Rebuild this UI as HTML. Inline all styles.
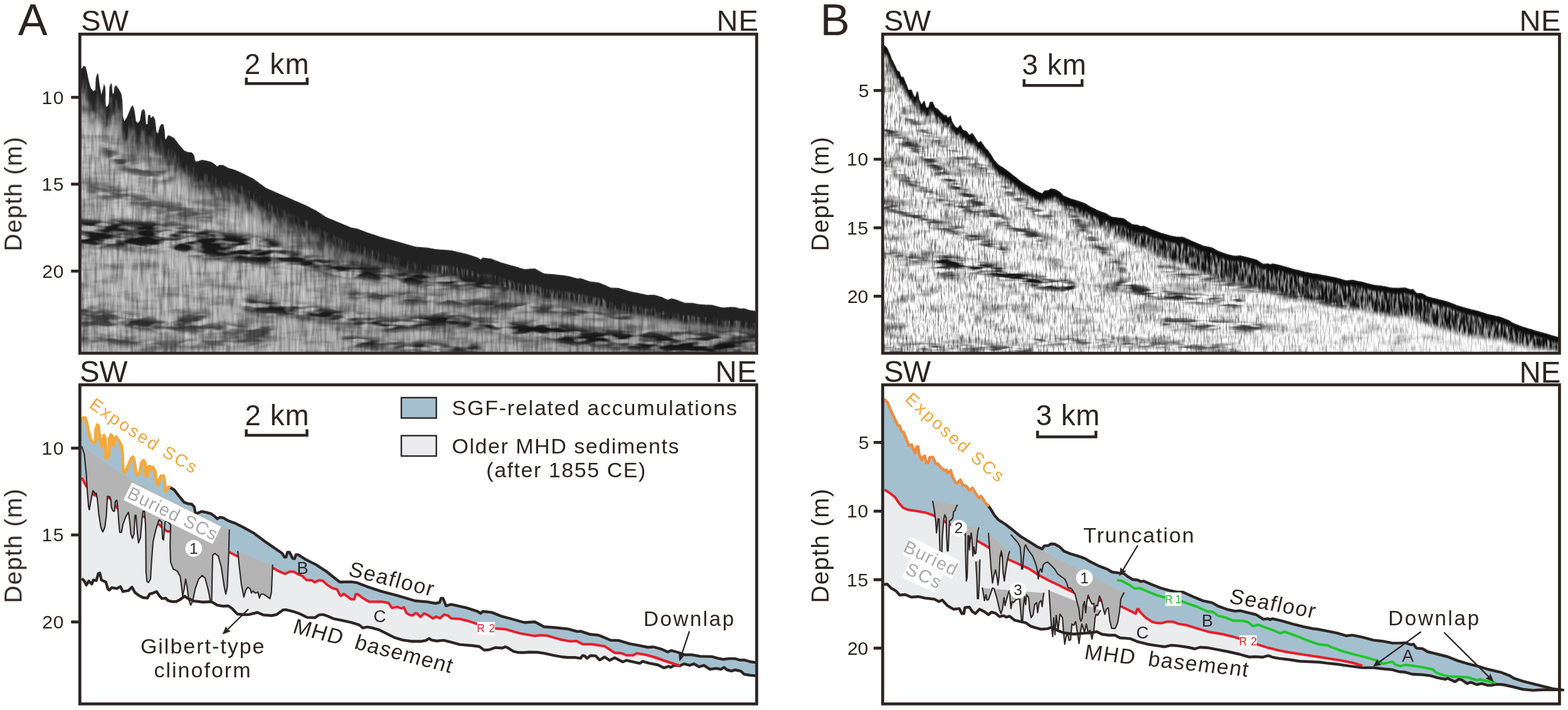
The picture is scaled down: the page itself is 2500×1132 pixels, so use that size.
<!DOCTYPE html>
<html lang="en"><head><meta charset="utf-8"><title>Seismic profiles and interpretation</title>
<style>html,body{margin:0;padding:0;background:#fff}svg{display:block}text{font-family:'Liberation Sans',Arial,sans-serif}</style>
</head><body>
<svg width="2500" height="1132" viewBox="0 0 2500 1132">
<rect width="2500" height="1132" fill="#fff"/>
<defs>
<clipPath id="cA"><path d="M127.0,109.2L130.4,109.2L132.8,105.2L136.0,105.2L138.4,113.2L141.6,129.2L144.8,140.4L148.8,145.2L152.0,143.6L152.8,124.4L155.2,116.4L156.8,118.0L158.4,132.4L161.6,151.6L164.0,142.0L165.6,133.2L168.0,138.8L168.8,169.2L171.2,170.0L173.6,164.4L174.4,138.8L176.8,132.4L178.4,134.0L179.5,149.2L181.1,149.2L182.4,138.8L184.8,135.6L189.6,142.0L193.6,150.0L195.2,161.2L196.0,185.2L198.4,193.2L202.4,186.8L208.8,170.8L212.0,167.6L214.4,175.6L216.8,193.2L220.0,196.4L223.2,191.6L225.6,177.2L228.8,173.2L231.2,177.2L232.8,198.0L235.2,198.0L236.0,183.6L239.2,182.8L240.8,188.4L244.0,184.4L247.2,190.0L249.6,210.8L252.0,212.4L254.4,202.8L256.8,198.0L260.8,198.0L262.4,207.6L263.2,221.2L264.8,222.0L267.2,216.4L269.6,215.6L277.6,220.0L285.6,230.4L293.6,240.0L300.0,242.4L305.6,242.9L309.6,247.2L311.5,256.8L314.4,257.6L321.6,254.7L328.8,256.0L336.8,258.0L343.2,262.4L346.4,265.5L350.4,262.8L356.0,263.3L364.0,267.7L375.2,271.0L388.0,276.7L404.0,284.8L424.0,299.6L488.0,327.6L504.0,335.6L520.0,346.0L560.0,362.8L569.6,364.4L584.0,370.0L608.0,378.0L632.0,384.4L662.4,393.2L681.6,394.8L694.4,397.2L719.2,399.0L744.0,404.8L761.6,410.6L766.4,413.8L769.6,410.6L784.0,412.4L799.2,418.5L820.0,424.3L836.0,428.9L852.8,428.1L867.2,435.9L884.0,437.3L904.8,439.7L920.8,444.1L925.6,443.6L940.0,448.5L954.4,450.3L962.4,453.5L973.6,458.4L986.4,458.9L1004.0,464.3L1020.0,467.4L1032.8,470.2L1042.4,469.8L1055.2,473.6L1064.8,478.0L1070.4,475.6L1080.8,478.6L1092.0,482.7L1103.2,482.8L1116.0,485.3L1135.2,486.0L1144.8,488.8L1152.8,490.4L1162.4,489.4L1172.0,489.5L1180.0,492.0L1186.4,491.6L1196.0,494.6L1204.3,495.8L1207.0,495.8L1207.0,563.0L127.0,563.0Z"/></clipPath>
<clipPath id="cB"><path d="M1407.0,72.1L1410.4,72.1L1415.2,76.9L1419.2,86.5L1423.2,96.1L1427.2,104.1L1431.2,112.9L1434.4,113.7L1436.8,121.7L1440.8,122.6L1444.8,133.0L1448.8,143.4L1453.6,142.6L1456.0,149.0L1459.2,155.4L1461.6,145.8L1464.0,145.8L1465.6,158.6L1469.6,166.6L1472.0,161.8L1474.4,160.2L1476.8,171.4L1480.0,171.4L1482.4,162.6L1487.2,162.1L1491.2,171.4L1495.2,173.0L1500.8,179.4L1505.6,183.4L1508.8,182.6L1511.2,187.4L1516.0,183.4L1518.4,193.8L1523.2,201.8L1526.4,203.9L1531.2,198.4L1535.2,206.9L1540.8,208.4L1545.6,214.9L1550.4,211.4L1556.0,220.6L1560.0,227.0L1564.0,224.6L1568.0,230.2L1572.0,236.6L1575.2,239.0L1580.8,247.0L1585.6,255.0L1592.0,262.2L1603.2,269.4L1614.4,278.2L1627.2,288.6L1640.0,296.6L1652.8,304.6L1661.6,308.6L1664.8,303.8L1672.0,303.0L1675.2,300.6L1681.6,300.9L1689.6,305.4L1696.0,311.8L1707.2,316.6L1718.4,319.8L1729.6,323.8L1739.2,329.4L1752.0,335.8L1764.8,340.6L1772.8,345.4L1784.0,347.0L1792.0,347.8L1798.0,352.6L1806.0,357.4L1814.0,358.2L1818.8,360.6L1823.6,359.8L1836.4,365.4L1850.8,371.0L1865.2,375.0L1876.4,377.4L1886.0,377.4L1902.0,384.6L1918.0,391.3L1932.4,394.2L1942.0,399.8L1958.0,405.4L1969.2,407.8L1977.2,407.0L1990.0,410.2L2002.8,413.4L2014.0,420.6L2022.0,419.8L2025.2,421.4L2028.4,419.8L2042.8,423.0L2062.0,428.6L2078.0,432.6L2094.0,435.9L2100.0,436.4L2116.0,439.6L2132.0,442.8L2146.4,447.1L2156.0,446.0L2172.0,449.2L2189.6,454.0L2204.0,455.6L2220.0,458.8L2231.2,458.8L2240.8,458.3L2248.8,461.2L2253.6,460.4L2258.4,466.8L2268.0,467.6L2276.0,472.4L2292.0,476.4L2308.0,480.4L2324.0,486.8L2340.0,491.6L2356.0,495.6L2372.0,500.4L2392.8,505.2L2407.2,511.1L2413.6,515.3L2428.0,520.7L2444.0,525.4L2460.0,530.0L2476.0,534.7L2487.0,538.0L2487.0,563.0L1407.0,563.0Z"/></clipPath>
<filter id="fA" filterUnits="userSpaceOnUse" x="127" y="57" width="1080" height="506" color-interpolation-filters="sRGB">
<feTurbulence type="fractalNoise" baseFrequency="0.22 0.022" numOctaves="3" seed="11" result="n1"/>
<feColorMatrix in="n1" type="matrix" values="0.62 0 0 0 0.47  0.62 0 0 0 0.47  0.62 0 0 0 0.47  0 0 0 0 1" result="g1"/>
<feTurbulence type="fractalNoise" baseFrequency="0.016 0.06" numOctaves="3" seed="5" result="n2"/>
<feColorMatrix in="n2" type="matrix" values="0 0.9 0 0 0.5  0 0.9 0 0 0.5  0 0.9 0 0 0.5  0 0 0 0 1" result="g2"/>
<feBlend in="g1" in2="g2" mode="multiply" result="gm"/>
<feComponentTransfer in="gm"><feFuncR type="table" tableValues="0.1 0.25 0.45 0.69 0.85"/><feFuncG type="table" tableValues="0.1 0.25 0.45 0.69 0.85"/><feFuncB type="table" tableValues="0.1 0.25 0.45 0.69 0.85"/></feComponentTransfer>
</filter>
<filter id="fB" filterUnits="userSpaceOnUse" x="1407" y="57" width="1080" height="506" color-interpolation-filters="sRGB">
<feTurbulence type="fractalNoise" baseFrequency="0.42 0.06" numOctaves="3" seed="23" result="n1"/>
<feColorMatrix in="n1" type="matrix" values="1.5 0 0 0 0.16  1.5 0 0 0 0.16  1.5 0 0 0 0.16  0 0 0 0 1" result="g1"/>
<feTurbulence type="fractalNoise" baseFrequency="0.02 0.06" numOctaves="3" seed="9" result="n2"/>
<feColorMatrix in="n2" type="matrix" values="0 1.2 0 0 0.4  0 1.2 0 0 0.4  0 1.2 0 0 0.4  0 0 0 0 1" result="g2"/>
<feBlend in="g1" in2="g2" mode="multiply"/>
</filter>
<filter id="blotA" filterUnits="userSpaceOnUse" x="120" y="50" width="2380" height="520" color-interpolation-filters="sRGB">
<feTurbulence type="fractalNoise" baseFrequency="0.028 0.10" numOctaves="2" seed="4" result="n"/>
<feColorMatrix in="n" type="matrix" values="0 0 0 0 0  0 0 0 0 0  0 0 0 0 0  4.00 0 0 0 -1.35" result="m"/>
<feGaussianBlur in="SourceGraphic" stdDeviation="4" result="s"/>
<feComposite in="s" in2="m" operator="in"/>
</filter>
<filter id="blotB" filterUnits="userSpaceOnUse" x="120" y="50" width="2380" height="520" color-interpolation-filters="sRGB">
<feTurbulence type="fractalNoise" baseFrequency="0.03 0.14" numOctaves="2" seed="8" result="n"/>
<feColorMatrix in="n" type="matrix" values="0 0 0 0 0  0 0 0 0 0  0 0 0 0 0  4.00 0 0 0 -1.55" result="m"/>
<feGaussianBlur in="SourceGraphic" stdDeviation="3" result="s"/>
<feComposite in="s" in2="m" operator="in"/>
</filter>
<filter id="mott" filterUnits="userSpaceOnUse" x="120" y="50" width="2380" height="520" color-interpolation-filters="sRGB">
<feTurbulence type="fractalNoise" baseFrequency="0.3 0.05" numOctaves="2" seed="15" result="n"/>
<feColorMatrix in="n" type="matrix" values="0 0 0 0 0  0 0 0 0 0  0 0 0 0 0  3.00 0 0 0 -0.90" result="m"/>
<feGaussianBlur in="SourceGraphic" stdDeviation="3" result="s"/>
<feComposite in="s" in2="m" operator="in"/>
</filter>
<filter id="mottA" filterUnits="userSpaceOnUse" x="120" y="50" width="2380" height="520" color-interpolation-filters="sRGB">
<feTurbulence type="fractalNoise" baseFrequency="0.25 0.03" numOctaves="2" seed="21" result="n"/>
<feColorMatrix in="n" type="matrix" values="0 0 0 0 0  0 0 0 0 0  0 0 0 0 0  3.00 0 0 0 -0.85" result="m"/>
<feGaussianBlur in="SourceGraphic" stdDeviation="2" result="s"/>
<feComposite in="s" in2="m" operator="in"/>
</filter>
<filter id="mottA2" filterUnits="userSpaceOnUse" x="120" y="50" width="2380" height="520" color-interpolation-filters="sRGB">
<feTurbulence type="fractalNoise" baseFrequency="0.12 0.04" numOctaves="2" seed="33" result="n"/>
<feColorMatrix in="n" type="matrix" values="0 0 0 0 0  0 0 0 0 0  0 0 0 0 0  3.50 0 0 0 -1.35" result="m"/>
<feGaussianBlur in="SourceGraphic" stdDeviation="3" result="s"/>
<feComposite in="s" in2="m" operator="in"/>
</filter>
<filter id="bl2" x="-5%" y="-30%" width="110%" height="160%"><feGaussianBlur stdDeviation="1.5"/></filter>
<filter id="bl8" x="-5%" y="-30%" width="110%" height="160%"><feGaussianBlur stdDeviation="8"/></filter>
<filter id="bl5" x="-5%" y="-30%" width="110%" height="160%"><feGaussianBlur stdDeviation="5"/></filter>
<linearGradient id="darkA" x1="0" y1="0" x2="1" y2="1"><stop offset="0" stop-color="#000" stop-opacity="0"/><stop offset="0.5" stop-color="#000" stop-opacity="0.03"/><stop offset="1" stop-color="#000" stop-opacity="0.16"/></linearGradient>
<linearGradient id="fadeB" x1="0" y1="0" x2="1" y2="0"><stop offset="0" stop-color="#fff" stop-opacity="0"/><stop offset="0.4" stop-color="#fff" stop-opacity="0.12"/><stop offset="1" stop-color="#fff" stop-opacity="0.6"/></linearGradient>
</defs>
<g id="seisA" clip-path="url(#cA)">
<rect x="127" y="57" width="1080" height="506" filter="url(#fA)"/>
<g filter="url(#blotA)" fill="none" stroke="#1a1a1a" stroke-linecap="round" stroke-linejoin="round">
<path d="M126,371 L258,375 L327,388 L430,402" stroke-width="44"/>
<path d="M150,300 L250,328 L330,345" stroke-width="20" opacity="0.6"/>
<path d="M126,512 L300,522 L430,530" stroke-width="18" opacity="0.7"/>
<path d="M396,396 L533,427 L671,445 L800,456" stroke-width="22"/>
<path d="M126,492 L189,506 L258,518 L327,502" stroke-width="16" opacity="0.7"/>
<path d="M396,486 L510,500 L625,518 L717,509 L809,523 L901,528" stroke-width="20"/>
<path d="M855,525 L993,546 L1176,556" stroke-width="24"/>
<path d="M1050,499 L1120,501 L1206,510" stroke-width="14"/>
<path d="M552,543 L648,552 L760,556" stroke-width="14"/>
<path d="M170,240 L205,268 L270,282" stroke-width="16" opacity="0.7"/>
<path d="M560,470 L700,478 L860,492 L1000,506" stroke-width="14" opacity="0.8"/>
<path d="M900,538 L1050,540 L1206,542" stroke-width="26" opacity="0.85"/>
<path d="M126,540 L250,548 L420,545" stroke-width="14" opacity="0.6"/>
</g>
<rect x="127" y="57" width="1080" height="506" fill="url(#darkA)"/>
<path d="M127.0,109.2L130.4,109.2L132.8,105.2L136.0,105.2L138.4,113.2L141.6,129.2L144.8,140.4L148.8,145.2L152.0,143.6L152.8,124.4L155.2,116.4L156.8,118.0L158.4,132.4L161.6,151.6L164.0,142.0L165.6,133.2L168.0,138.8L168.8,169.2L171.2,170.0L173.6,164.4L174.4,138.8L176.8,132.4L178.4,134.0L179.5,149.2L181.1,149.2L182.4,138.8L184.8,135.6L189.6,142.0L193.6,150.0L195.2,161.2L196.0,185.2L198.4,193.2L202.4,186.8L208.8,170.8L212.0,167.6L214.4,175.6L216.8,193.2L220.0,196.4L223.2,191.6L225.6,177.2L228.8,173.2L231.2,177.2L232.8,198.0L235.2,198.0L236.0,183.6L239.2,182.8L240.8,188.4L244.0,184.4L247.2,190.0L249.6,210.8L252.0,212.4L254.4,202.8L256.8,198.0L260.8,198.0L262.4,207.6L263.2,221.2L264.8,222.0L267.2,216.4L269.6,215.6L277.6,220.0L285.6,230.4L293.6,240.0L300.0,242.4L305.6,242.9L309.6,247.2L311.5,256.8L314.4,257.6L321.6,254.7L328.8,256.0L336.8,258.0L343.2,262.4L346.4,265.5L350.4,262.8L356.0,263.3L364.0,267.7L375.2,271.0L388.0,276.7L404.0,284.8L424.0,299.6L488.0,327.6L504.0,335.6L520.0,346.0L560.0,362.8L569.6,364.4L584.0,370.0L608.0,378.0L632.0,384.4L662.4,393.2L681.6,394.8L694.4,397.2L694.4,431.4L681.6,431.7L662.4,434.3L632.0,432.0L608.0,430.7L584.0,427.9L569.6,425.3L560.0,425.8L520.0,407.2L504.0,396.0L488.0,387.3L424.0,356.4L404.0,340.7L388.0,331.8L375.2,325.6L364.0,321.7L356.0,317.0L350.4,316.3L346.4,318.7L343.2,315.5L336.8,310.8L328.8,308.5L321.6,307.2L314.4,310.1L311.5,309.3L309.6,299.7L305.6,295.4L300.0,294.9L293.6,292.5L285.6,282.9L277.6,272.5L269.6,268.1L267.2,268.9L264.8,274.5L263.2,273.7L262.4,260.1L260.8,250.5L256.8,250.5L254.4,255.3L252.0,264.9L249.6,263.3L247.2,242.5L244.0,236.9L240.8,240.9L239.2,235.3L236.0,236.1L235.2,250.5L232.8,250.5L231.2,229.7L228.8,225.7L225.6,229.7L223.2,244.1L220.0,248.9L216.8,245.7L214.4,228.1L212.0,220.1L208.8,223.3L202.4,239.3L198.4,245.7L196.0,237.7L195.2,213.7L193.6,202.5L189.6,194.5L184.8,188.1L182.4,191.3L181.1,201.7L179.5,201.7L178.4,186.5L176.8,184.9L174.4,191.3L173.6,216.9L171.2,222.5L168.8,221.7L168.0,191.3L165.6,185.7L164.0,194.5L161.6,204.1L158.4,184.9L156.8,170.5L155.2,168.9L152.8,176.9L152.0,196.1L148.8,197.7L144.8,192.9L141.6,181.7L138.4,165.7L136.0,157.7L132.8,157.7L130.4,161.7L127.0,161.7Z" fill="#222" opacity="0.38" filter="url(#bl8)" transform="translate(0 4)"/>
<path d="M127.0,109.2L130.4,109.2L132.8,105.2L136.0,105.2L138.4,113.2L141.6,129.2L144.8,140.4L148.8,145.2L152.0,143.6L152.8,124.4L155.2,116.4L156.8,118.0L158.4,132.4L161.6,151.6L164.0,142.0L165.6,133.2L168.0,138.8L168.8,169.2L171.2,170.0L173.6,164.4L174.4,138.8L176.8,132.4L178.4,134.0L179.5,149.2L181.1,149.2L182.4,138.8L184.8,135.6L189.6,142.0L193.6,150.0L195.2,161.2L196.0,185.2L198.4,193.2L202.4,186.8L208.8,170.8L212.0,167.6L214.4,175.6L216.8,193.2L220.0,196.4L223.2,191.6L225.6,177.2L228.8,173.2L231.2,177.2L232.8,198.0L235.2,198.0L236.0,183.6L239.2,182.8L240.8,188.4L244.0,184.4L247.2,190.0L249.6,210.8L252.0,212.4L254.4,202.8L256.8,198.0L260.8,198.0L262.4,207.6L263.2,221.2L264.8,222.0L267.2,216.4L269.6,215.6L277.6,220.0L285.6,230.4L293.6,240.0L300.0,242.4L305.6,242.9L309.6,247.2L311.5,256.8L314.4,257.6L321.6,254.7L328.8,256.0L336.8,258.0L343.2,262.4L346.4,265.5L350.4,262.8L356.0,263.3L364.0,267.7L375.2,271.0L388.0,276.7L404.0,284.8L424.0,299.6L488.0,327.6L504.0,335.6L520.0,346.0L560.0,362.8L569.6,364.4L584.0,370.0L608.0,378.0L632.0,384.4L662.4,393.2L681.6,394.8L694.4,397.2L694.4,431.4L681.6,431.7L662.4,434.3L632.0,432.0L608.0,430.7L584.0,427.9L569.6,425.3L560.0,425.8L520.0,407.2L504.0,396.0L488.0,387.3L424.0,356.4L404.0,340.7L388.0,331.8L375.2,325.6L364.0,321.7L356.0,317.0L350.4,316.3L346.4,318.7L343.2,315.5L336.8,310.8L328.8,308.5L321.6,307.2L314.4,310.1L311.5,309.3L309.6,299.7L305.6,295.4L300.0,294.9L293.6,292.5L285.6,282.9L277.6,272.5L269.6,268.1L267.2,268.9L264.8,274.5L263.2,273.7L262.4,260.1L260.8,250.5L256.8,250.5L254.4,255.3L252.0,264.9L249.6,263.3L247.2,242.5L244.0,236.9L240.8,240.9L239.2,235.3L236.0,236.1L235.2,250.5L232.8,250.5L231.2,229.7L228.8,225.7L225.6,229.7L223.2,244.1L220.0,248.9L216.8,245.7L214.4,228.1L212.0,220.1L208.8,223.3L202.4,239.3L198.4,245.7L196.0,237.7L195.2,213.7L193.6,202.5L189.6,194.5L184.8,188.1L182.4,191.3L181.1,201.7L179.5,201.7L178.4,186.5L176.8,184.9L174.4,191.3L173.6,216.9L171.2,222.5L168.8,221.7L168.0,191.3L165.6,185.7L164.0,194.5L161.6,204.1L158.4,184.9L156.8,170.5L155.2,168.9L152.8,176.9L152.0,196.1L148.8,197.7L144.8,192.9L141.6,181.7L138.4,165.7L136.0,157.7L132.8,157.7L130.4,161.7L127.0,161.7Z" fill="#222" opacity="0.5" filter="url(#mottA2)"/>
<path d="M127.0,109.2L130.4,109.2L132.8,105.2L136.0,105.2L138.4,113.2L141.6,129.2L144.8,140.4L148.8,145.2L152.0,143.6L152.8,124.4L155.2,116.4L156.8,118.0L158.4,132.4L161.6,151.6L164.0,142.0L165.6,133.2L168.0,138.8L168.8,169.2L171.2,170.0L173.6,164.4L174.4,138.8L176.8,132.4L178.4,134.0L179.5,149.2L181.1,149.2L182.4,138.8L184.8,135.6L189.6,142.0L193.6,150.0L195.2,161.2L196.0,185.2L198.4,193.2L202.4,186.8L208.8,170.8L212.0,167.6L214.4,175.6L216.8,193.2L220.0,196.4L223.2,191.6L225.6,177.2L228.8,173.2L231.2,177.2L232.8,198.0L235.2,198.0L236.0,183.6L239.2,182.8L240.8,188.4L244.0,184.4L247.2,190.0L249.6,210.8L252.0,212.4L254.4,202.8L256.8,198.0L260.8,198.0L262.4,207.6L263.2,221.2L264.8,222.0L267.2,216.4L269.6,215.6L277.6,220.0L285.6,230.4L293.6,240.0L300.0,242.4L305.6,242.9L309.6,247.2L311.5,256.8L314.4,257.6L321.6,254.7L328.8,256.0L336.8,258.0L343.2,262.4L346.4,265.5L350.4,262.8L356.0,263.3L364.0,267.7L375.2,271.0L388.0,276.7L404.0,284.8L424.0,299.6L488.0,327.6L504.0,335.6L520.0,346.0L560.0,362.8L569.6,364.4L584.0,370.0L608.0,378.0L632.0,384.4L662.4,393.2L681.6,394.8L694.4,397.2L719.2,399.0L744.0,404.8L761.6,410.6L766.4,413.8L769.6,410.6L784.0,412.4L799.2,418.5L820.0,424.3L836.0,428.9L852.8,428.1L867.2,435.9L884.0,437.3L904.8,439.7L920.8,444.1L925.6,443.6L940.0,448.5L954.4,450.3L962.4,453.5L973.6,458.4L986.4,458.9L1004.0,464.3L1020.0,467.4L1032.8,470.2L1042.4,469.8L1055.2,473.6L1064.8,478.0L1070.4,475.6L1080.8,478.6L1092.0,482.7L1103.2,482.8L1116.0,485.3L1135.2,486.0L1144.8,488.8L1152.8,490.4L1162.4,489.4L1172.0,489.5L1180.0,492.0L1186.4,491.6L1196.0,494.6L1204.3,495.8L1207.0,495.8L1207.0,527.0L1204.3,527.0L1196.0,525.8L1186.4,522.8L1180.0,523.2L1172.0,520.7L1162.4,520.6L1152.8,521.6L1144.8,520.0L1135.2,517.2L1116.0,516.5L1103.2,514.0L1092.0,514.2L1080.8,510.5L1070.4,508.0L1064.8,510.5L1055.2,506.5L1042.4,503.2L1032.8,504.0L1020.0,501.7L1004.0,499.3L986.4,494.5L973.6,494.6L962.4,490.1L954.4,487.1L940.0,486.0L925.6,481.6L920.8,482.3L904.8,478.5L884.0,476.3L867.2,474.9L852.8,467.1L836.0,467.9L820.0,463.3L799.2,457.5L784.0,451.4L769.6,449.6L766.4,452.8L761.6,449.6L744.0,443.8L719.2,438.0L694.4,436.2L681.6,433.8L662.4,432.2L632.0,423.4L608.0,417.0L584.0,409.0L569.6,403.4L560.0,401.8L520.0,383.9L504.0,373.0L488.0,364.6L424.0,334.8L404.0,319.4L388.0,310.8L375.2,304.8L364.0,301.1L356.0,296.5L350.4,295.9L346.4,298.4L343.2,295.3L336.8,290.7L328.8,288.5L321.6,287.2L314.4,290.1L311.5,289.3L309.6,279.7L305.6,275.4L300.0,274.9L293.6,272.5L285.6,262.9L277.6,252.5L269.6,248.1L267.2,248.9L264.8,254.5L263.2,253.7L262.4,240.1L260.8,230.5L256.8,230.5L254.4,235.3L252.0,244.9L249.6,243.3L247.2,222.5L244.0,216.9L240.8,220.9L239.2,215.3L236.0,216.1L235.2,230.5L232.8,230.5L231.2,209.7L228.8,205.7L225.6,209.7L223.2,224.1L220.0,228.9L216.8,225.7L214.4,208.1L212.0,200.1L208.8,203.3L202.4,219.3L198.4,225.7L196.0,217.7L195.2,193.7L193.6,182.5L189.6,174.5L184.8,168.1L182.4,171.3L181.1,181.7L179.5,181.7L178.4,166.5L176.8,164.9L174.4,171.3L173.6,196.9L171.2,202.5L168.8,201.7L168.0,171.3L165.6,165.7L164.0,174.5L161.6,184.1L158.4,164.9L156.8,150.5L155.2,148.9L152.8,156.9L152.0,176.1L148.8,177.7L144.8,172.9L141.6,161.7L138.4,145.7L136.0,137.7L132.8,137.7L130.4,141.7L127.0,141.7Z" fill="#222" opacity="0.45" filter="url(#bl5)" transform="translate(0 6)"/>
<path d="M127.0,109.2L130.4,109.2L132.8,105.2L136.0,105.2L138.4,113.2L141.6,129.2L144.8,140.4L148.8,145.2L152.0,143.6L152.8,124.4L155.2,116.4L156.8,118.0L158.4,132.4L161.6,151.6L164.0,142.0L165.6,133.2L168.0,138.8L168.8,169.2L171.2,170.0L173.6,164.4L174.4,138.8L176.8,132.4L178.4,134.0L179.5,149.2L181.1,149.2L182.4,138.8L184.8,135.6L189.6,142.0L193.6,150.0L195.2,161.2L196.0,185.2L198.4,193.2L202.4,186.8L208.8,170.8L212.0,167.6L214.4,175.6L216.8,193.2L220.0,196.4L223.2,191.6L225.6,177.2L228.8,173.2L231.2,177.2L232.8,198.0L235.2,198.0L236.0,183.6L239.2,182.8L240.8,188.4L244.0,184.4L247.2,190.0L249.6,210.8L252.0,212.4L254.4,202.8L256.8,198.0L260.8,198.0L262.4,207.6L263.2,221.2L264.8,222.0L267.2,216.4L269.6,215.6L277.6,220.0L285.6,230.4L293.6,240.0L300.0,242.4L305.6,242.9L309.6,247.2L311.5,256.8L314.4,257.6L321.6,254.7L328.8,256.0L336.8,258.0L343.2,262.4L346.4,265.5L350.4,262.8L356.0,263.3L364.0,267.7L375.2,271.0L388.0,276.7L404.0,284.8L424.0,299.6L488.0,327.6L504.0,335.6L520.0,346.0L560.0,362.8L569.6,364.4L584.0,370.0L608.0,378.0L632.0,384.4L662.4,393.2L681.6,394.8L694.4,397.2L719.2,399.0L744.0,404.8L761.6,410.6L766.4,413.8L769.6,410.6L784.0,412.4L799.2,418.5L820.0,424.3L836.0,428.9L852.8,428.1L867.2,435.9L884.0,437.3L904.8,439.7L920.8,444.1L925.6,443.6L940.0,448.5L954.4,450.3L962.4,453.5L973.6,458.4L986.4,458.9L1004.0,464.3L1020.0,467.4L1032.8,470.2L1042.4,469.8L1055.2,473.6L1064.8,478.0L1070.4,475.6L1080.8,478.6L1092.0,482.7L1103.2,482.8L1116.0,485.3L1135.2,486.0L1144.8,488.8L1152.8,490.4L1162.4,489.4L1172.0,489.5L1180.0,492.0L1186.4,491.6L1196.0,494.6L1204.3,495.8L1207.0,495.8L1207.0,527.0L1204.3,527.0L1196.0,525.8L1186.4,522.8L1180.0,523.2L1172.0,520.7L1162.4,520.6L1152.8,521.6L1144.8,520.0L1135.2,517.2L1116.0,516.5L1103.2,514.0L1092.0,514.2L1080.8,510.5L1070.4,508.0L1064.8,510.5L1055.2,506.5L1042.4,503.2L1032.8,504.0L1020.0,501.7L1004.0,499.3L986.4,494.5L973.6,494.6L962.4,490.1L954.4,487.1L940.0,486.0L925.6,481.6L920.8,482.3L904.8,478.5L884.0,476.3L867.2,474.9L852.8,467.1L836.0,467.9L820.0,463.3L799.2,457.5L784.0,451.4L769.6,449.6L766.4,452.8L761.6,449.6L744.0,443.8L719.2,438.0L694.4,436.2L681.6,433.8L662.4,432.2L632.0,423.4L608.0,417.0L584.0,409.0L569.6,403.4L560.0,401.8L520.0,383.9L504.0,373.0L488.0,364.6L424.0,334.8L404.0,319.4L388.0,310.8L375.2,304.8L364.0,301.1L356.0,296.5L350.4,295.9L346.4,298.4L343.2,295.3L336.8,290.7L328.8,288.5L321.6,287.2L314.4,290.1L311.5,289.3L309.6,279.7L305.6,275.4L300.0,274.9L293.6,272.5L285.6,262.9L277.6,252.5L269.6,248.1L267.2,248.9L264.8,254.5L263.2,253.7L262.4,240.1L260.8,230.5L256.8,230.5L254.4,235.3L252.0,244.9L249.6,243.3L247.2,222.5L244.0,216.9L240.8,220.9L239.2,215.3L236.0,216.1L235.2,230.5L232.8,230.5L231.2,209.7L228.8,205.7L225.6,209.7L223.2,224.1L220.0,228.9L216.8,225.7L214.4,208.1L212.0,200.1L208.8,203.3L202.4,219.3L198.4,225.7L196.0,217.7L195.2,193.7L193.6,182.5L189.6,174.5L184.8,168.1L182.4,171.3L181.1,181.7L179.5,181.7L178.4,166.5L176.8,164.9L174.4,171.3L173.6,196.9L171.2,202.5L168.8,201.7L168.0,171.3L165.6,165.7L164.0,174.5L161.6,184.1L158.4,164.9L156.8,150.5L155.2,148.9L152.8,156.9L152.0,176.1L148.8,177.7L144.8,172.9L141.6,161.7L138.4,145.7L136.0,137.7L132.8,137.7L130.4,141.7L127.0,141.7Z" fill="#202020" filter="url(#mottA)"/>
<path d="M127.0,109.2L130.4,109.2L132.8,105.2L136.0,105.2L138.4,113.2L141.6,129.2L144.8,140.4L148.8,145.2L152.0,143.6L152.8,124.4L155.2,116.4L156.8,118.0L158.4,132.4L161.6,151.6L164.0,142.0L165.6,133.2L168.0,138.8L168.8,169.2L171.2,170.0L173.6,164.4L174.4,138.8L176.8,132.4L178.4,134.0L179.5,149.2L181.1,149.2L182.4,138.8L184.8,135.6L189.6,142.0L193.6,150.0L195.2,161.2L196.0,185.2L198.4,193.2L202.4,186.8L208.8,170.8L212.0,167.6L214.4,175.6L216.8,193.2L220.0,196.4L223.2,191.6L225.6,177.2L228.8,173.2L231.2,177.2L232.8,198.0L235.2,198.0L236.0,183.6L239.2,182.8L240.8,188.4L244.0,184.4L247.2,190.0L249.6,210.8L252.0,212.4L254.4,202.8L256.8,198.0L260.8,198.0L262.4,207.6L263.2,221.2L264.8,222.0L267.2,216.4L269.6,215.6L277.6,220.0L285.6,230.4L293.6,240.0L300.0,242.4L305.6,242.9L309.6,247.2L311.5,256.8L314.4,257.6L321.6,254.7L328.8,256.0L336.8,258.0L343.2,262.4L346.4,265.5L350.4,262.8L356.0,263.3L364.0,267.7L375.2,271.0L388.0,276.7L404.0,284.8L424.0,299.6L488.0,327.6L504.0,335.6L520.0,346.0L560.0,362.8L569.6,364.4L584.0,370.0L608.0,378.0L632.0,384.4L662.4,393.2L681.6,394.8L694.4,397.2L719.2,399.0L744.0,404.8L761.6,410.6L766.4,413.8L769.6,410.6L784.0,412.4L799.2,418.5L820.0,424.3L836.0,428.9L852.8,428.1L867.2,435.9L884.0,437.3L904.8,439.7L920.8,444.1L925.6,443.6L940.0,448.5L954.4,450.3L962.4,453.5L973.6,458.4L986.4,458.9L1004.0,464.3L1020.0,467.4L1032.8,470.2L1042.4,469.8L1055.2,473.6L1064.8,478.0L1070.4,475.6L1080.8,478.6L1092.0,482.7L1103.2,482.8L1116.0,485.3L1135.2,486.0L1144.8,488.8L1152.8,490.4L1162.4,489.4L1172.0,489.5L1180.0,492.0L1186.4,491.6L1196.0,494.6L1204.3,495.8L1207.0,495.8L1207.0,516.2L1204.3,516.2L1196.0,515.0L1186.4,512.0L1180.0,512.4L1172.0,509.9L1162.4,509.8L1152.8,510.8L1144.8,509.2L1135.2,506.4L1116.0,505.7L1103.2,503.2L1092.0,503.3L1080.8,499.5L1070.4,496.8L1064.8,499.3L1055.2,495.1L1042.4,491.6L1032.8,492.3L1020.0,489.8L1004.0,487.2L986.4,482.2L973.6,482.1L962.4,477.5L954.4,474.4L940.0,473.0L925.6,468.5L920.8,469.0L904.8,465.1L884.0,462.8L867.2,461.4L852.8,453.6L836.0,454.4L820.0,449.8L799.2,444.0L784.0,437.9L769.6,436.1L766.4,439.3L761.6,436.1L744.0,430.3L719.2,424.5L694.4,422.7L681.6,420.3L662.4,418.7L632.0,409.9L608.0,403.5L584.0,395.5L569.6,389.9L560.0,388.3L520.0,370.8L504.0,360.1L488.0,351.8L424.0,322.6L404.0,307.4L388.0,299.0L375.2,293.1L364.0,289.5L356.0,285.0L350.4,284.5L346.4,287.0L343.2,283.9L336.8,279.4L328.8,277.2L321.6,276.0L314.4,278.9L311.5,278.1L309.6,268.5L305.6,264.2L300.0,263.7L293.6,261.2L285.6,251.7L277.6,241.2L269.6,236.9L267.2,237.7L264.8,243.2L263.2,242.5L262.4,228.9L260.8,219.2L256.8,219.2L254.4,224.1L252.0,233.7L249.6,232.1L247.2,211.2L244.0,205.7L240.8,209.7L239.2,204.1L236.0,204.9L235.2,219.2L232.8,219.2L231.2,198.5L228.8,194.5L225.6,198.5L223.2,212.9L220.0,217.7L216.8,214.5L214.4,196.9L212.0,188.9L208.8,192.1L202.4,208.1L198.4,214.5L196.0,206.5L195.2,182.5L193.6,171.2L189.6,163.2L184.8,156.9L182.4,160.1L181.1,170.5L179.5,170.5L178.4,155.2L176.8,153.7L174.4,160.1L173.6,185.7L171.2,191.2L168.8,190.5L168.0,160.1L165.6,154.5L164.0,163.2L161.6,172.9L158.4,153.7L156.8,139.2L155.2,137.7L152.8,145.7L152.0,164.9L148.8,166.5L144.8,161.7L141.6,150.5L138.4,134.5L136.0,126.5L132.8,126.5L130.4,130.5L127.0,130.5Z" fill="#202020" filter="url(#bl2)"/>
</g>
<g id="seisB" clip-path="url(#cB)">
<rect x="1407" y="57" width="1080" height="506" filter="url(#fB)"/>
<rect x="1407" y="57" width="1080" height="506" fill="url(#fadeB)"/>
<g filter="url(#blotB)" fill="none" stroke="#151515" stroke-linecap="round" stroke-linejoin="round">
<path d="M1406,204 L1469,243 L1515,289 L1584,344 L1657,381" stroke-width="14" opacity="0.85"/>
<path d="M1406,326 L1469,349 L1538,372 L1600,400" stroke-width="14" opacity="0.8"/>
<path d="M1500,415 L1584,431 L1653,450 L1705,456" stroke-width="20"/>
<path d="M1786,454 L1836,468 L1905,477 L1974,482" stroke-width="16" opacity="0.9"/>
<path d="M1859,514 L1951,519 L2010,521" stroke-width="16" opacity="0.8"/>
<path d="M1653,544 L1813,548 L1974,556" stroke-width="12" opacity="0.7"/>
<path d="M1700,330 L1740,380 L1790,430" stroke-width="12" opacity="0.7"/>
<path d="M1406,262 L1450,290 L1500,318 L1560,340" stroke-width="12" opacity="0.8"/>
<path d="M1440,180 L1480,215 L1530,250 L1580,275" stroke-width="10" opacity="0.7"/>
<path d="M1406,400 L1460,412 L1520,440" stroke-width="12" opacity="0.7"/>
<path d="M1600,300 L1640,330 L1680,350" stroke-width="12" opacity="0.7"/>
<path d="M1406,556 L1500,552 L1640,558" stroke-width="12" opacity="0.8"/>
<path d="M1850,425 L1950,452 L2060,470 L2150,486" stroke-width="12" opacity="0.7"/>
</g>
<path d="M1407.0,72.1L1410.4,72.1L1415.2,76.9L1419.2,86.5L1423.2,96.1L1427.2,104.1L1431.2,112.9L1434.4,113.7L1436.8,121.7L1440.8,122.6L1444.8,133.0L1448.8,143.4L1453.6,142.6L1456.0,149.0L1459.2,155.4L1461.6,145.8L1464.0,145.8L1465.6,158.6L1469.6,166.6L1472.0,161.8L1474.4,160.2L1476.8,171.4L1480.0,171.4L1482.4,162.6L1487.2,162.1L1491.2,171.4L1495.2,173.0L1500.8,179.4L1505.6,183.4L1508.8,182.6L1511.2,187.4L1516.0,183.4L1518.4,193.8L1523.2,201.8L1526.4,203.9L1531.2,198.4L1535.2,206.9L1540.8,208.4L1545.6,214.9L1550.4,211.4L1556.0,220.6L1560.0,227.0L1564.0,224.6L1568.0,230.2L1572.0,236.6L1575.2,239.0L1580.8,247.0L1585.6,255.0L1592.0,262.2L1603.2,269.4L1614.4,278.2L1627.2,288.6L1640.0,296.6L1652.8,304.6L1661.6,308.6L1664.8,303.8L1672.0,303.0L1675.2,300.6L1681.6,300.9L1689.6,305.4L1696.0,311.8L1707.2,316.6L1718.4,319.8L1729.6,323.8L1739.2,329.4L1752.0,335.8L1764.8,340.6L1772.8,345.4L1784.0,347.0L1792.0,347.8L1798.0,352.6L1806.0,357.4L1814.0,358.2L1818.8,360.6L1823.6,359.8L1836.4,365.4L1850.8,371.0L1865.2,375.0L1876.4,377.4L1886.0,377.4L1902.0,384.6L1918.0,391.3L1932.4,394.2L1942.0,399.8L1958.0,405.4L1969.2,407.8L1977.2,407.0L1990.0,410.2L2002.8,413.4L2014.0,420.6L2022.0,419.8L2025.2,421.4L2028.4,419.8L2042.8,423.0L2062.0,428.6L2078.0,432.6L2094.0,435.9L2100.0,436.4L2116.0,439.6L2132.0,442.8L2146.4,447.1L2156.0,446.0L2172.0,449.2L2189.6,454.0L2204.0,455.6L2220.0,458.8L2231.2,458.8L2240.8,458.3L2248.8,461.2L2253.6,460.4L2258.4,466.8L2268.0,467.6L2276.0,472.4L2292.0,476.4L2308.0,480.4L2324.0,486.8L2340.0,491.6L2356.0,495.6L2372.0,500.4L2392.8,505.2L2407.2,511.1L2413.6,515.3L2428.0,520.7L2444.0,525.4L2460.0,530.0L2476.0,534.7L2487.0,538.0L2487.0,560.0L2476.0,557.2L2460.0,554.9L2444.0,552.7L2428.0,550.4L2413.6,547.1L2407.2,543.8L2392.8,540.0L2372.0,538.2L2356.0,535.8L2340.0,534.1L2324.0,530.8L2308.0,524.4L2292.0,520.4L2276.0,516.4L2268.0,511.6L2258.4,510.8L2253.6,504.4L2248.8,505.2L2240.8,502.3L2231.2,502.8L2220.0,502.8L2204.0,499.6L2189.6,498.0L2172.0,493.2L2156.0,490.0L2146.4,491.1L2132.0,486.8L2116.0,483.6L2100.0,480.4L2094.0,479.9L2078.0,476.6L2062.0,472.6L2042.8,467.0L2028.4,463.8L2025.2,465.4L2022.0,463.8L2014.0,464.6L2002.8,457.4L1990.0,454.2L1977.2,451.0L1969.2,451.8L1958.0,449.4L1942.0,443.8L1932.4,438.2L1918.0,435.3L1902.0,428.6L1886.0,419.5L1876.4,418.2L1865.2,414.3L1850.8,408.4L1836.4,400.8L1823.6,393.5L1818.8,393.6L1814.0,390.6L1806.0,388.7L1798.0,382.8L1792.0,377.2L1784.0,375.3L1772.8,372.2L1764.8,366.3L1752.0,359.8L1739.2,351.7L1729.6,344.8L1718.4,339.3L1707.2,334.6L1696.0,328.8L1689.6,322.4L1681.6,317.9L1675.2,317.6L1672.0,320.0L1664.8,320.8L1661.6,325.6L1652.8,321.6L1640.0,313.6L1627.2,305.6L1614.4,295.2L1603.2,286.4L1592.0,279.2L1585.6,272.0L1580.8,264.0L1575.2,256.0L1572.0,253.6L1568.0,247.2L1564.0,241.6L1560.0,244.0L1556.0,237.6L1550.4,228.4L1545.6,231.9L1540.8,225.4L1535.2,223.9L1531.2,215.4L1526.4,220.9L1523.2,218.8L1518.4,210.8L1516.0,200.4L1511.2,204.4L1508.8,199.6L1505.6,200.4L1500.8,196.4L1495.2,190.0L1491.2,188.4L1487.2,179.1L1482.4,179.6L1480.0,188.4L1476.8,188.4L1474.4,177.2L1472.0,178.8L1469.6,183.6L1465.6,175.6L1464.0,162.8L1461.6,162.8L1459.2,172.4L1456.0,166.0L1453.6,159.6L1448.8,160.4L1444.8,150.0L1440.8,139.6L1436.8,138.7L1434.4,130.7L1431.2,129.9L1427.2,121.1L1423.2,113.1L1419.2,103.5L1415.2,93.9L1410.4,89.1L1407.0,89.1Z" fill="#111" filter="url(#mott)"/>
<path d="M1407.0,72.1L1410.4,72.1L1415.2,76.9L1419.2,86.5L1423.2,96.1L1427.2,104.1L1431.2,112.9L1434.4,113.7L1436.8,121.7L1440.8,122.6L1444.8,133.0L1448.8,143.4L1453.6,142.6L1456.0,149.0L1459.2,155.4L1461.6,145.8L1464.0,145.8L1465.6,158.6L1469.6,166.6L1472.0,161.8L1474.4,160.2L1476.8,171.4L1480.0,171.4L1482.4,162.6L1487.2,162.1L1491.2,171.4L1495.2,173.0L1500.8,179.4L1505.6,183.4L1508.8,182.6L1511.2,187.4L1516.0,183.4L1518.4,193.8L1523.2,201.8L1526.4,203.9L1531.2,198.4L1535.2,206.9L1540.8,208.4L1545.6,214.9L1550.4,211.4L1556.0,220.6L1560.0,227.0L1564.0,224.6L1568.0,230.2L1572.0,236.6L1575.2,239.0L1580.8,247.0L1585.6,255.0L1592.0,262.2L1603.2,269.4L1614.4,278.2L1627.2,288.6L1640.0,296.6L1652.8,304.6L1661.6,308.6L1664.8,303.8L1672.0,303.0L1675.2,300.6L1681.6,300.9L1689.6,305.4L1696.0,311.8L1707.2,316.6L1718.4,319.8L1729.6,323.8L1739.2,329.4L1752.0,335.8L1764.8,340.6L1772.8,345.4L1784.0,347.0L1792.0,347.8L1798.0,352.6L1806.0,357.4L1814.0,358.2L1818.8,360.6L1823.6,359.8L1836.4,365.4L1850.8,371.0L1865.2,375.0L1876.4,377.4L1886.0,377.4L1902.0,384.6L1918.0,391.3L1932.4,394.2L1942.0,399.8L1958.0,405.4L1969.2,407.8L1977.2,407.0L1990.0,410.2L2002.8,413.4L2014.0,420.6L2022.0,419.8L2025.2,421.4L2028.4,419.8L2042.8,423.0L2062.0,428.6L2078.0,432.6L2094.0,435.9L2100.0,436.4L2116.0,439.6L2132.0,442.8L2146.4,447.1L2156.0,446.0L2172.0,449.2L2189.6,454.0L2204.0,455.6L2220.0,458.8L2231.2,458.8L2240.8,458.3L2248.8,461.2L2253.6,460.4L2258.4,466.8L2268.0,467.6L2276.0,472.4L2292.0,476.4L2308.0,480.4L2324.0,486.8L2340.0,491.6L2356.0,495.6L2372.0,500.4L2392.8,505.2L2407.2,511.1L2413.6,515.3L2428.0,520.7L2444.0,525.4L2460.0,530.0L2476.0,534.7L2487.0,538.0L2487.0,560.0L2476.0,557.2L2460.0,554.9L2444.0,552.7L2428.0,550.4L2413.6,547.1L2407.2,543.8L2392.8,540.0L2372.0,538.2L2356.0,535.8L2340.0,534.1L2324.0,530.8L2308.0,524.4L2292.0,520.4L2276.0,516.4L2268.0,511.6L2258.4,510.8L2253.6,504.4L2248.8,505.2L2240.8,502.3L2231.2,502.8L2220.0,502.8L2204.0,499.6L2189.6,498.0L2172.0,493.2L2156.0,490.0L2146.4,491.1L2132.0,486.8L2116.0,483.6L2100.0,480.4L2094.0,479.9L2078.0,476.6L2062.0,472.6L2042.8,467.0L2028.4,463.8L2025.2,465.4L2022.0,463.8L2014.0,464.6L2002.8,457.4L1990.0,454.2L1977.2,451.0L1969.2,451.8L1958.0,449.4L1942.0,443.8L1932.4,438.2L1918.0,435.3L1902.0,428.6L1886.0,419.5L1876.4,418.2L1865.2,414.3L1850.8,408.4L1836.4,400.8L1823.6,393.5L1818.8,393.6L1814.0,390.6L1806.0,388.7L1798.0,382.8L1792.0,377.2L1784.0,375.3L1772.8,372.2L1764.8,366.3L1752.0,359.8L1739.2,351.7L1729.6,344.8L1718.4,339.3L1707.2,334.6L1696.0,328.8L1689.6,322.4L1681.6,317.9L1675.2,317.6L1672.0,320.0L1664.8,320.8L1661.6,325.6L1652.8,321.6L1640.0,313.6L1627.2,305.6L1614.4,295.2L1603.2,286.4L1592.0,279.2L1585.6,272.0L1580.8,264.0L1575.2,256.0L1572.0,253.6L1568.0,247.2L1564.0,241.6L1560.0,244.0L1556.0,237.6L1550.4,228.4L1545.6,231.9L1540.8,225.4L1535.2,223.9L1531.2,215.4L1526.4,220.9L1523.2,218.8L1518.4,210.8L1516.0,200.4L1511.2,204.4L1508.8,199.6L1505.6,200.4L1500.8,196.4L1495.2,190.0L1491.2,188.4L1487.2,179.1L1482.4,179.6L1480.0,188.4L1476.8,188.4L1474.4,177.2L1472.0,178.8L1469.6,183.6L1465.6,175.6L1464.0,162.8L1461.6,162.8L1459.2,172.4L1456.0,166.0L1453.6,159.6L1448.8,160.4L1444.8,150.0L1440.8,139.6L1436.8,138.7L1434.4,130.7L1431.2,129.9L1427.2,121.1L1423.2,113.1L1419.2,103.5L1415.2,93.9L1410.4,89.1L1407.0,89.1Z" fill="#111" opacity="0.35" filter="url(#bl5)"/>
<path d="M1407.0,72.1L1410.4,72.1L1415.2,76.9L1419.2,86.5L1423.2,96.1L1427.2,104.1L1431.2,112.9L1434.4,113.7L1436.8,121.7L1440.8,122.6L1444.8,133.0L1448.8,143.4L1453.6,142.6L1456.0,149.0L1459.2,155.4L1461.6,145.8L1464.0,145.8L1465.6,158.6L1469.6,166.6L1472.0,161.8L1474.4,160.2L1476.8,171.4L1480.0,171.4L1482.4,162.6L1487.2,162.1L1491.2,171.4L1495.2,173.0L1500.8,179.4L1505.6,183.4L1508.8,182.6L1511.2,187.4L1516.0,183.4L1518.4,193.8L1523.2,201.8L1526.4,203.9L1531.2,198.4L1535.2,206.9L1540.8,208.4L1545.6,214.9L1550.4,211.4L1556.0,220.6L1560.0,227.0L1564.0,224.6L1568.0,230.2L1572.0,236.6L1575.2,239.0L1580.8,247.0L1585.6,255.0L1592.0,262.2L1603.2,269.4L1614.4,278.2L1627.2,288.6L1640.0,296.6L1652.8,304.6L1661.6,308.6L1664.8,303.8L1672.0,303.0L1675.2,300.6L1681.6,300.9L1689.6,305.4L1696.0,311.8L1707.2,316.6L1718.4,319.8L1729.6,323.8L1739.2,329.4L1752.0,335.8L1764.8,340.6L1772.8,345.4L1784.0,347.0L1792.0,347.8L1798.0,352.6L1806.0,357.4L1814.0,358.2L1818.8,360.6L1823.6,359.8L1836.4,365.4L1850.8,371.0L1865.2,375.0L1876.4,377.4L1886.0,377.4L1902.0,384.6L1918.0,391.3L1932.4,394.2L1942.0,399.8L1958.0,405.4L1969.2,407.8L1977.2,407.0L1990.0,410.2L2002.8,413.4L2014.0,420.6L2022.0,419.8L2025.2,421.4L2028.4,419.8L2042.8,423.0L2062.0,428.6L2078.0,432.6L2094.0,435.9L2100.0,436.4L2116.0,439.6L2132.0,442.8L2146.4,447.1L2156.0,446.0L2172.0,449.2L2189.6,454.0L2204.0,455.6L2220.0,458.8L2231.2,458.8L2240.8,458.3L2248.8,461.2L2253.6,460.4L2258.4,466.8L2268.0,467.6L2276.0,472.4L2292.0,476.4L2308.0,480.4L2324.0,486.8L2340.0,491.6L2356.0,495.6L2372.0,500.4L2392.8,505.2L2407.2,511.1L2413.6,515.3L2428.0,520.7L2444.0,525.4L2460.0,530.0L2476.0,534.7L2487.0,538.0L2487.0,547.5L2476.0,544.2L2460.0,539.5L2444.0,534.9L2428.0,530.2L2413.6,524.8L2407.2,520.6L2392.8,514.7L2372.0,509.9L2356.0,505.1L2340.0,501.1L2324.0,496.3L2308.0,489.9L2292.0,485.9L2276.0,481.9L2268.0,477.1L2258.4,476.3L2253.6,469.9L2248.8,470.7L2240.8,467.8L2231.2,468.3L2220.0,468.3L2204.0,465.1L2189.6,463.5L2172.0,458.7L2156.0,455.5L2146.4,456.6L2132.0,452.3L2116.0,449.1L2100.0,445.9L2094.0,445.4L2078.0,442.1L2062.0,438.1L2042.8,432.5L2028.4,429.3L2025.2,430.9L2022.0,429.3L2014.0,430.1L2002.8,422.9L1990.0,419.7L1977.2,416.5L1969.2,417.3L1958.0,414.9L1942.0,409.5L1932.4,404.1L1918.0,401.4L1902.0,395.1L1886.0,388.2L1876.4,388.4L1865.2,386.2L1850.8,382.5L1836.4,377.2L1823.6,371.8L1818.8,372.7L1814.0,370.4L1806.0,369.8L1798.0,365.1L1792.0,360.3L1784.0,359.5L1772.8,357.9L1764.8,353.1L1752.0,348.3L1739.2,341.9L1729.6,336.3L1718.4,332.3L1707.2,329.1L1696.0,324.3L1689.6,317.9L1681.6,313.4L1675.2,313.1L1672.0,315.5L1664.8,316.3L1661.6,321.1L1652.8,317.1L1640.0,309.1L1627.2,301.1L1614.4,290.7L1603.2,281.9L1592.0,274.7L1585.6,267.5L1580.8,259.5L1575.2,251.5L1572.0,249.1L1568.0,242.7L1564.0,237.1L1560.0,239.5L1556.0,233.1L1550.4,223.9L1545.6,227.4L1540.8,220.9L1535.2,219.4L1531.2,210.9L1526.4,216.4L1523.2,214.3L1518.4,206.3L1516.0,195.9L1511.2,199.9L1508.8,195.1L1505.6,195.9L1500.8,191.9L1495.2,185.5L1491.2,183.9L1487.2,174.6L1482.4,175.1L1480.0,183.9L1476.8,183.9L1474.4,172.7L1472.0,174.3L1469.6,179.1L1465.6,171.1L1464.0,158.3L1461.6,158.3L1459.2,167.9L1456.0,161.5L1453.6,155.1L1448.8,155.9L1444.8,145.5L1440.8,135.1L1436.8,134.2L1434.4,126.2L1431.2,125.4L1427.2,116.6L1423.2,108.6L1419.2,99.0L1415.2,89.4L1410.4,84.6L1407.0,84.6Z" fill="#0c0c0c" filter="url(#bl2)"/>
</g>
<g id="interpA">
<path d="M127.0,761.6L130.4,761.6L137.6,775.2L150.4,789.6L175.2,794.4L187.2,810.4L228.0,823.2L253.6,836.5L266.4,847.2L272.0,847.0L366.4,880.8L379.2,887.2L435.2,905.6L444.0,910.4L454.4,915.0L462.4,911.3L468.8,911.6L475.2,915.6L481.6,918.0L488.8,924.9L496.8,924.9L501.6,928.4L508.8,925.2L514.4,925.7L521.6,932.4L529.6,937.7L537.6,939.6L541.6,948.4L544.0,950.0L548.0,946.8L553.6,950.8L560.0,955.6L564.8,955.6L567.2,947.6L570.4,947.3L579.2,954.0L588.8,959.6L608.0,959.3L619.2,961.2L624.8,969.2L633.6,967.6L640.0,970.0L644.0,968.4L648.0,977.2L652.8,980.4L658.4,981.2L661.6,978.0L664.8,978.0L670.4,983.6L676.0,978.0L681.6,980.4L690.4,986.0L695.2,983.1L701.6,985.7L708.0,979.9L714.4,981.5L719.2,986.0L732.8,986.8L748.8,990.8L760.8,994.8L775.0,998.5L789.1,1002.0L805.6,1003.2L828.0,1009.6L852.0,1013.9L861.6,1012.8L872.8,1013.6L892.0,1019.2L908.0,1022.4L919.2,1022.1L928.8,1026.9L944.8,1027.2L964.0,1030.4L980.0,1040.8L991.2,1041.6L999.2,1044.8L1009.6,1044.8L1015.2,1041.6L1029.6,1044.0L1044.0,1048.0L1060.0,1053.6L1084.0,1061.6L1084.0,1061.6L1074.4,1060.8L1069.6,1064.0L1066.4,1062.4L1058.4,1064.8L1048.8,1060.0L1036.0,1057.6L1029.6,1056.0L1024.8,1054.4L1020.0,1057.6L1005.6,1054.4L999.2,1052.8L992.8,1055.2L980.0,1048.8L972.0,1052.8L964.0,1047.5L956.0,1052.3L949.6,1045.6L941.6,1045.3L936.0,1049.6L932.0,1045.6L928.8,1045.3L925.6,1049.6L917.6,1048.3L904.8,1048.3L895.2,1047.2L882.4,1044.8L868.0,1041.6L856.8,1040.0L844.0,1039.7L834.4,1040.5L826.4,1040.3L818.4,1038.4L809.6,1032.8L805.6,1031.2L800.8,1033.3L789.6,1032.5L780.0,1036.0L772.0,1036.5L764.0,1030.8L752.0,1029.2L732.8,1027.6L718.4,1023.6L707.2,1020.9L696.0,1022.0L688.0,1020.4L684.0,1018.0L679.2,1021.2L672.0,1022.5L656.0,1022.5L641.6,1020.4L628.8,1016.4L617.6,1010.8L604.8,1004.4L593.6,1001.2L585.6,999.6L578.4,1001.2L572.8,996.4L560.0,992.4L544.0,988.9L531.2,986.3L521.6,982.0L515.2,979.9L508.8,980.4L502.4,984.7L489.6,984.4L478.4,978.8L467.2,974.8L456.0,972.1L451.2,972.4L441.6,979.6L433.6,981.5L420.0,980.5L410.4,976.5L397.6,979.7L388.0,980.0L378.4,979.0L370.4,970.5L364.0,966.0L356.0,966.5L346.4,964.8L336.8,959.2L324.0,960.0L309.6,958.4L298.4,953.6L294.4,950.4L287.2,956.0L280.8,959.2L274.4,959.2L268.0,957.6L264.0,953.6L258.4,954.4L254.4,950.4L249.6,943.2L244.0,945.6L238.4,947.2L235.2,953.6L228.0,952.8L221.6,949.6L215.2,944.8L210.4,936.0L204.8,941.6L196.0,943.2L192.0,935.2L186.4,938.4L178.4,936.8L174.4,940.8L172.0,939.2L168.8,928.0L161.6,924.8L159.2,913.6L156.8,914.4L153.6,925.6L148.8,924.8L146.4,931.2L141.6,926.4L137.6,932.8L134.4,926.4L130.4,922.4L127.0,922.4Z" fill="#ebecee"/>
<path d="M127.0,670.0L130.4,670.0L132.8,666.0L136.0,666.0L138.4,674.0L141.6,690.0L144.8,701.2L148.8,706.0L152.0,704.4L152.8,685.2L155.2,677.2L156.8,678.8L158.4,693.2L161.6,712.4L164.0,702.8L165.6,694.0L168.0,699.6L168.8,730.0L171.2,730.8L173.6,725.2L174.4,699.6L176.8,693.2L178.4,694.8L179.5,710.0L181.1,710.0L182.4,699.6L184.8,696.4L189.6,702.8L193.6,710.8L195.2,722.0L196.0,746.0L198.4,754.0L202.4,747.6L208.8,731.6L212.0,728.4L214.4,736.4L216.8,754.0L220.0,757.2L223.2,752.4L225.6,738.0L228.8,734.0L231.2,738.0L232.8,758.8L235.2,758.8L236.0,744.4L239.2,743.6L240.8,749.2L244.0,745.2L247.2,750.8L249.6,771.6L252.0,773.2L254.4,763.6L256.8,758.8L260.8,758.8L262.4,768.4L263.2,782.0L264.8,782.8L267.2,777.2L269.6,776.4L277.6,780.8L285.6,791.2L293.6,800.8L300.0,803.2L305.6,803.7L309.6,808.0L311.5,817.6L314.4,818.4L321.6,815.5L328.8,816.8L336.8,819.2L343.2,824.0L346.4,827.2L350.4,824.8L356.0,825.6L364.0,830.4L375.2,834.4L388.0,840.8L404.0,849.6L424.0,864.4L449.6,882.0L453.6,888.4L456.0,888.4L458.4,880.4L461.6,880.4L466.4,890.0L469.6,890.8L472.0,884.4L475.2,884.4L488.0,892.4L504.0,900.4L520.0,910.8L541.6,928.0L560.0,927.6L569.6,929.2L584.0,934.8L608.0,942.8L632.0,949.2L662.4,958.0L681.6,959.6L694.4,962.0L700.8,960.4L703.2,954.0L706.4,954.0L711.2,966.0L719.2,963.6L744.0,969.2L761.6,974.8L766.4,978.0L769.6,974.8L784.0,976.4L799.2,982.4L820.0,988.0L836.0,992.5L852.8,991.5L867.2,999.2L884.0,1000.5L904.8,1002.7L920.8,1006.9L925.6,1006.4L940.0,1011.2L954.4,1012.8L962.4,1016.0L973.6,1020.8L986.4,1021.1L1004.0,1026.4L1020.0,1029.3L1032.8,1032.0L1042.4,1031.5L1055.2,1035.2L1064.8,1039.5L1070.4,1037.1L1080.8,1040.0L1092.0,1044.0L1103.2,1044.0L1116.0,1046.4L1135.2,1046.9L1144.8,1049.6L1152.8,1051.2L1162.4,1050.1L1172.0,1050.1L1180.0,1052.5L1186.4,1052.1L1196.0,1055.0L1204.3,1056.1L1207.0,1056.1L1207.0,1077.4L1204.3,1077.4L1196.0,1076.6L1186.4,1075.0L1181.6,1070.2L1172.0,1068.0L1166.4,1069.9L1159.2,1068.0L1154.4,1064.0L1149.6,1067.2L1141.6,1065.6L1132.0,1067.2L1122.4,1060.8L1114.4,1063.2L1106.4,1058.4L1100.0,1060.8L1090.4,1058.4L1084.0,1061.6L1084.0,1061.6L1060.0,1053.6L1044.0,1048.0L1029.6,1044.0L1015.2,1041.6L1009.6,1044.8L999.2,1044.8L991.2,1041.6L980.0,1040.8L964.0,1030.4L944.8,1027.2L928.8,1026.9L919.2,1022.1L908.0,1022.4L892.0,1019.2L872.8,1013.6L861.6,1012.8L852.0,1013.9L828.0,1009.6L805.6,1003.2L789.1,1002.0L775.0,998.5L760.8,994.8L748.8,990.8L732.8,986.8L719.2,986.0L714.4,981.5L708.0,979.9L701.6,985.7L695.2,983.1L690.4,986.0L681.6,980.4L676.0,978.0L670.4,983.6L664.8,978.0L661.6,978.0L658.4,981.2L652.8,980.4L648.0,977.2L644.0,968.4L640.0,970.0L633.6,967.6L624.8,969.2L619.2,961.2L608.0,959.3L588.8,959.6L579.2,954.0L570.4,947.3L567.2,947.6L564.8,955.6L560.0,955.6L553.6,950.8L548.0,946.8L544.0,950.0L541.6,948.4L537.6,939.6L529.6,937.7L521.6,932.4L514.4,925.7L508.8,925.2L501.6,928.4L496.8,924.9L488.8,924.9L481.6,918.0L475.2,915.6L468.8,911.6L462.4,911.3L454.4,915.0L444.0,910.4L435.2,905.6L379.2,887.2L366.4,880.8L272.0,847.0L266.4,847.2L253.6,836.5L228.0,823.2L187.2,810.4L175.2,794.4L150.4,789.6L137.6,775.2L130.4,761.6L127.0,761.6Z" fill="#a4c0cf"/>
<path d="M130.4,761.6L137.6,775.2L150.4,789.6L175.2,794.4L187.2,810.4L228.0,823.2L253.6,836.5L266.4,847.2L272.0,847.0L366.4,880.8L379.2,887.2L435.2,905.6L444.0,910.4L454.4,915.0L462.4,911.3L468.8,911.6L475.2,915.6L481.6,918.0L488.8,924.9L496.8,924.9L501.6,928.4L508.8,925.2L514.4,925.7L521.6,932.4L529.6,937.7L537.6,939.6L541.6,948.4L544.0,950.0L548.0,946.8L553.6,950.8L560.0,955.6L564.8,955.6L567.2,947.6L570.4,947.3L579.2,954.0L588.8,959.6L608.0,959.3L619.2,961.2L624.8,969.2L633.6,967.6L640.0,970.0L644.0,968.4L648.0,977.2L652.8,980.4L658.4,981.2L661.6,978.0L664.8,978.0L670.4,983.6L676.0,978.0L681.6,980.4L690.4,986.0L695.2,983.1L701.6,985.7L708.0,979.9L714.4,981.5L719.2,986.0L732.8,986.8L748.8,990.8L760.8,994.8L775.0,998.5L789.1,1002.0L805.6,1003.2L828.0,1009.6L852.0,1013.9L861.6,1012.8L872.8,1013.6L892.0,1019.2L908.0,1022.4L919.2,1022.1L928.8,1026.9L944.8,1027.2L964.0,1030.4L980.0,1040.8L991.2,1041.6L999.2,1044.8L1009.6,1044.8L1015.2,1041.6L1029.6,1044.0L1044.0,1048.0L1060.0,1053.6L1084.0,1061.6" fill="none" stroke="#e61f2b" stroke-width="4" stroke-linejoin="round"/>
<path d="M130.4,712.0L134.4,724.0L137.6,756.0L139.2,783.2L141.3,808.8L142.4,812.8L144.8,799.2L148.0,782.4L150.4,784.8L152.0,787.2L153.6,786.4L155.2,796.0L157.6,820.0L160.8,840.8L164.0,848.0L167.2,840.8L169.6,821.6L171.2,791.2L175.2,792.0L176.8,797.6L177.6,808.8L180.0,814.4L182.4,815.2L184.0,799.2L186.4,797.6L188.0,812.0L189.6,836.0L190.9,848.8L193.6,848.8L196.0,836.0L200.8,823.2L204.8,816.8L206.4,828.0L208.8,852.0L211.2,858.4L213.6,852.0L215.2,821.6L216.8,821.6L219.2,852.0L220.8,865.6L224.0,856.8L226.4,828.0L228.0,815.2L230.4,815.2L232.0,836.0L232.4,848.0L232.8,912.0L234.4,927.2L236.8,928.8L240.0,923.2L241.6,896.0L244.0,864.0L248.8,843.2L253.6,828.8L257.6,832.0L259.2,859.2L260.8,860.8L262.4,840.0L263.2,832.0L266.0,830.0L272.0,836.8L271.2,872.0L272.0,896.0L276.0,907.2L282.4,910.4L287.2,918.4L289.6,936.0L291.2,950.4L293.6,939.2L296.0,923.2L298.4,936.0L300.8,955.2L304.0,964.8L307.2,958.4L311.2,939.2L316.8,923.2L322.4,917.6L327.0,921.6L332.0,940.8L335.2,956.8L337.6,956.8L338.4,912.0L339.2,884.8L342.4,882.4L348.0,886.4L352.8,904.0L357.6,936.0L360.0,947.2L362.4,936.0L364.8,880.0L365.6,844.8L365.6,844.0L266.4,796.0L194.4,756.0L130.4,712.0Z" fill="#b4b4b5"/>
<path d="M130.4,712.0L134.4,724.0L137.6,756.0L139.2,783.2L141.3,808.8L142.4,812.8L144.8,799.2L148.0,782.4L150.4,784.8L152.0,787.2L153.6,786.4L155.2,796.0L157.6,820.0L160.8,840.8L164.0,848.0L167.2,840.8L169.6,821.6L171.2,791.2L175.2,792.0L176.8,797.6L177.6,808.8L180.0,814.4L182.4,815.2L184.0,799.2L186.4,797.6L188.0,812.0L189.6,836.0L190.9,848.8L193.6,848.8L196.0,836.0L200.8,823.2L204.8,816.8L206.4,828.0L208.8,852.0L211.2,858.4L213.6,852.0L215.2,821.6L216.8,821.6L219.2,852.0L220.8,865.6L224.0,856.8L226.4,828.0L228.0,815.2L230.4,815.2L232.0,836.0L232.4,848.0L232.8,912.0L234.4,927.2L236.8,928.8L240.0,923.2L241.6,896.0L244.0,864.0L248.8,843.2L253.6,828.8L257.6,832.0L259.2,859.2L260.8,860.8L262.4,840.0L263.2,832.0L266.0,830.0L272.0,836.8L271.2,872.0L272.0,896.0L276.0,907.2L282.4,910.4L287.2,918.4L289.6,936.0L291.2,950.4L293.6,939.2L296.0,923.2L298.4,936.0L300.8,955.2L304.0,964.8L307.2,958.4L311.2,939.2L316.8,923.2L322.4,917.6L327.0,921.6L332.0,940.8L335.2,956.8L337.6,956.8L338.4,912.0L339.2,884.8L342.4,882.4L348.0,886.4L352.8,904.0L357.6,936.0L360.0,947.2L362.4,936.0L364.8,880.0L365.6,844.8" fill="none" stroke="#2c2523" stroke-width="2.1" stroke-linejoin="round" stroke-linecap="round"/>
<path d="M379.2,879.2L381.6,904.0L384.8,931.2L388.8,952.0L392.0,940.8L395.2,936.0L399.2,939.2L400.8,945.6L403.2,942.4L407.2,945.6L411.2,944.0L413.6,953.6L416.0,947.2L420.0,947.2L430.4,954.4L432.8,944.0L434.7,900.8L434.7,901.5L379.2,879.2Z" fill="#b4b4b5"/>
<path d="M379.2,879.2L381.6,904.0L384.8,931.2L388.8,952.0L392.0,940.8L395.2,936.0L399.2,939.2L400.8,945.6L403.2,942.4L407.2,945.6L411.2,944.0L413.6,953.6L416.0,947.2L420.0,947.2L430.4,954.4L432.8,944.0L434.7,900.8" fill="none" stroke="#2c2523" stroke-width="2.1" stroke-linejoin="round" stroke-linecap="round"/>
<path d="M130.4,922.4L134.4,926.4L137.6,932.8L141.6,926.4L146.4,931.2L148.8,924.8L153.6,925.6L156.8,914.4L159.2,913.6L161.6,924.8L168.8,928.0L172.0,939.2L174.4,940.8L178.4,936.8L186.4,938.4L192.0,935.2L196.0,943.2L204.8,941.6L210.4,936.0L215.2,944.8L221.6,949.6L228.0,952.8L235.2,953.6L238.4,947.2L244.0,945.6L249.6,943.2L254.4,950.4L258.4,954.4L264.0,953.6L268.0,957.6L274.4,959.2L280.8,959.2L287.2,956.0L294.4,950.4L298.4,953.6L309.6,958.4L324.0,960.0L336.8,959.2L346.4,964.8L356.0,966.5L364.0,966.0L370.4,970.5L378.4,979.0L388.0,980.0L397.6,979.7L410.4,976.5L420.0,980.5L433.6,981.5L441.6,979.6L451.2,972.4L456.0,972.1L467.2,974.8L478.4,978.8L489.6,984.4L502.4,984.7L508.8,980.4L515.2,979.9L521.6,982.0L531.2,986.3L544.0,988.9L560.0,992.4L572.8,996.4L578.4,1001.2L585.6,999.6L593.6,1001.2L604.8,1004.4L617.6,1010.8L628.8,1016.4L641.6,1020.4L656.0,1022.5L672.0,1022.5L679.2,1021.2L684.0,1018.0L688.0,1020.4L696.0,1022.0L707.2,1020.9L718.4,1023.6L732.8,1027.6L752.0,1029.2L764.0,1030.8L772.0,1036.5L780.0,1036.0L789.6,1032.5L800.8,1033.3L805.6,1031.2L809.6,1032.8L818.4,1038.4L826.4,1040.3L834.4,1040.5L844.0,1039.7L856.8,1040.0L868.0,1041.6L882.4,1044.8L895.2,1047.2L904.8,1048.3L917.6,1048.3L925.6,1049.6L928.8,1045.3L932.0,1045.6L936.0,1049.6L941.6,1045.3L949.6,1045.6L956.0,1052.3L964.0,1047.5L972.0,1052.8L980.0,1048.8L992.8,1055.2L999.2,1052.8L1005.6,1054.4L1020.0,1057.6L1024.8,1054.4L1029.6,1056.0L1036.0,1057.6L1048.8,1060.0L1058.4,1064.8L1066.4,1062.4L1069.6,1064.0L1074.4,1060.8L1084.0,1061.6L1090.4,1058.4L1100.0,1060.8L1106.4,1058.4L1114.4,1063.2L1122.4,1060.8L1132.0,1067.2L1141.6,1065.6L1149.6,1067.2L1154.4,1064.0L1159.2,1068.0L1166.4,1069.9L1172.0,1068.0L1181.6,1070.2L1186.4,1075.0L1196.0,1076.6L1204.3,1077.4" fill="none" stroke="#2c2523" stroke-width="4.4" stroke-linejoin="round"/>
<path d="M1044.0,1048.0L1060.0,1053.6L1084.0,1061.6" fill="none" stroke="#e61f2b" stroke-width="4" stroke-linejoin="round"/>
<path d="M269.6,776.5L277.6,780.8L285.6,791.2L293.6,800.8L300.0,803.2L305.6,803.7L309.6,808.0L311.5,817.6L314.4,818.4L321.6,815.5L328.8,816.8L336.8,819.2L343.2,824.0L346.4,827.2L350.4,824.8L356.0,825.6L364.0,830.4L375.2,834.4L388.0,840.8L404.0,849.6L424.0,864.4L449.6,882.0L453.6,888.4L456.0,888.4L458.4,880.4L461.6,880.4L466.4,890.0L469.6,890.8L472.0,884.4L475.2,884.4L488.0,892.4L504.0,900.4L520.0,910.8L541.6,928.0L560.0,927.6L569.6,929.2L584.0,934.8L608.0,942.8L632.0,949.2L662.4,958.0L681.6,959.6L694.4,962.0L700.8,960.4L703.2,954.0L706.4,954.0L711.2,966.0L719.2,963.6L744.0,969.2L761.6,974.8L766.4,978.0L769.6,974.8L784.0,976.4L799.2,982.4L820.0,988.0L836.0,992.5L852.8,991.5L867.2,999.2L884.0,1000.5L904.8,1002.7L920.8,1006.9L925.6,1006.4L940.0,1011.2L954.4,1012.8L962.4,1016.0L973.6,1020.8L986.4,1021.1L1004.0,1026.4L1020.0,1029.3L1032.8,1032.0L1042.4,1031.5L1055.2,1035.2L1064.8,1039.5L1070.4,1037.1L1080.8,1040.0L1092.0,1044.0L1103.2,1044.0L1116.0,1046.4L1135.2,1046.9L1144.8,1049.6L1152.8,1051.2L1162.4,1050.1L1172.0,1050.1L1180.0,1052.5L1186.4,1052.1L1196.0,1055.0L1204.3,1056.1" fill="none" stroke="#2c2523" stroke-width="4.4" stroke-linejoin="round" stroke-linecap="round"/>
<path d="M130.4,670.0L132.8,666.0L136.0,666.0L138.4,674.0L141.6,690.0L144.8,701.2L148.8,706.0L152.0,704.4L152.8,685.2L155.2,677.2L156.8,678.8L158.4,693.2L161.6,712.4L164.0,702.8L165.6,694.0L168.0,699.6L168.8,730.0L171.2,730.8L173.6,725.2L174.4,699.6L176.8,693.2L178.4,694.8L179.5,710.0L181.1,710.0L182.4,699.6L184.8,696.4L189.6,702.8L193.6,710.8L195.2,722.0L196.0,746.0L198.4,754.0L202.4,747.6L208.8,731.6L212.0,728.4L214.4,736.4L216.8,754.0L220.0,757.2L223.2,752.4L225.6,738.0L228.8,734.0L231.2,738.0L232.8,758.8L235.2,758.8L236.0,744.4L239.2,743.6L240.8,749.2L244.0,745.2L247.2,750.8L249.6,771.6L252.0,773.2L254.4,763.6L256.8,758.8L260.8,758.8L262.4,768.4L263.2,782.0L264.8,782.8L267.2,777.2L269.6,776.4" fill="none" stroke="#f5a93c" stroke-width="5" stroke-linejoin="round" stroke-linecap="round"/>
<path id="tp1" d="M125.4,637.8 L142.5,650.0 Q228.0,711.0 306.4,754.8 L345.6,776.7" fill="none"/>
<text font-size="27.80" letter-spacing="2.947" fill="#f5a63a"><textPath href="#tp1" startOffset="18.73">Exposed SCs</textPath></text>
<g transform="matrix(0.89677 0.44249 -0.44249 0.89677 203.20 794.10)">
<rect x="-4.5" y="-25.5" width="158.5" height="31.0" fill="#fff"/>
<text x="-2.34" y="0" font-size="28.51" letter-spacing="1.300" fill="#a9a9a9">Buried SCs</text></g>
<circle cx="308.8" cy="874.4" r="13.3" fill="#fff"/>
<text x="308.80" y="882.79" font-size="24.40" text-anchor="middle" fill="#2c2523">1</text>
<rect x="760.8" y="991.6" width="28.3" height="20.8" fill="#fff"/>
<text x="760.17" y="1008.40" font-size="17.44" letter-spacing="0.931" fill="#e61f2b" >R 2</text>
<text x="473.24" y="914.80" font-size="27.62" letter-spacing="0.000" fill="#2c2523" >B</text>
<text x="595.39" y="991.60" font-size="27.62" letter-spacing="0.000" fill="#2c2523" >C</text>
<g transform="matrix(0.97083 0.23977 -0.27351 0.96187 555.40 917.90)">
<text x="-1.57" y="0" font-size="34.04" letter-spacing="1.674" fill="#2c2523">Seafloor</text></g>
<g transform="matrix(0.96866 0.24838 -0.30705 0.95169 468.00 1009.20)">
<text x="-2.79" y="0" font-size="34.04" letter-spacing="1.383" word-spacing="9.00" fill="#2c2523">MHD basement</text></g>
<text x="223.90" y="1041.90" font-size="34.04" letter-spacing="1.970" fill="#2c2523" >Gilbert-type</text>
<text x="245.47" y="1080.00" font-size="34.04" letter-spacing="1.996" fill="#2c2523" >clinoform</text>
<path d="M396.0,971.2 L362.9,1003.5" stroke="#2c2523" stroke-width="2.3" fill="none"/>
<path d="M354.7,1011.5 L360.1,998.4 L362.9,1003.5 L367.9,1006.4 Z" fill="#2c2523"/>
<text x="1026.08" y="998.40" font-size="33.19" letter-spacing="2.495" fill="#2c2523" >Downlap</text>
<path d="M1099.2,1006.4 L1086.8,1043.5" stroke="#2c2523" stroke-width="2.3" fill="none"/>
<path d="M1083.2,1054.4 L1082.0,1040.3 L1086.8,1043.5 L1092.6,1043.8 Z" fill="#2c2523"/>
<rect x="639.9" y="634" width="55.8" height="32.5" fill="#a4c0cf" stroke="#2c2523" stroke-width="2.4"/>
<rect x="639.9" y="694.6" width="55.8" height="32.5" fill="#ebecee" stroke="#2c2523" stroke-width="2.4"/>
<text x="720.53" y="662.40" font-size="34.04" letter-spacing="1.755" fill="#2c2523" >SGF-related accumulations</text>
<text x="720.50" y="723.00" font-size="34.04" letter-spacing="1.510" fill="#2c2523" >Older MHD sediments</text>
<text x="775.29" y="760.90" font-size="34.04" letter-spacing="1.529" fill="#2c2523" >(after 1855 CE)</text>
</g>
<g id="interpB">
<path d="M1407.0,780.8L1410.4,780.8L1419.2,786.4L1427.2,792.8L1433.6,802.4L1440.0,809.6L1448.0,812.8L1464.0,815.2L1476.8,817.6L1488.0,821.6L1504.0,830.4L1515.2,836.8L1537.6,851.2L1560.0,863.2L1576.0,872.8L1592.0,883.2L1608.0,892.0L1624.0,899.2L1640.0,906.4L1656.0,916.8L1672.0,925.5L1688.0,933.0L1699.2,938.5L1712.0,944.8L1733.0,952.0L1754.4,957.6L1788.4,967.2L1798.0,972.0L1810.8,978.4L1813.2,971.2L1815.6,971.2L1817.2,975.2L1826.8,984.8L1836.4,991.2L1846.0,993.6L1852.4,993.6L1860.4,991.2L1870.0,991.2L1878.0,994.4L1894.0,997.3L1910.0,1002.4L1926.0,1007.2L1950.0,1011.2L1966.0,1015.2L1976.4,1018.4L1990.0,1023.0L2003.6,1027.2L2022.0,1032.8L2038.0,1036.8L2054.0,1040.0L2100.0,1047.0L2116.0,1049.4L2140.0,1053.4L2156.0,1056.6L2172.0,1061.4L2172.0,1064.6L2148.0,1061.4L2132.0,1059.0L2116.0,1057.4L2104.0,1055.8L2088.0,1055.0L2072.0,1054.2L2056.0,1051.8L2040.0,1049.9L2028.8,1047.8L2022.4,1045.4L2019.2,1046.2L2012.8,1047.8L2001.6,1047.0L1992.0,1047.5L1984.0,1045.4L1976.0,1043.0L1958.0,1039.0L1942.0,1035.8L1926.0,1032.8L1913.2,1032.0L1905.2,1034.5L1894.0,1032.0L1878.0,1029.6L1866.8,1028.8L1857.2,1031.2L1846.0,1029.6L1830.0,1027.2L1814.0,1023.2L1802.8,1018.4L1794.8,1017.6L1785.6,1017.0L1777.6,1012.8L1768.0,1012.8L1756.8,1011.2L1748.8,1007.2L1739.2,1009.0L1728.0,1009.6L1712.0,1011.0L1696.0,1009.0L1688.0,1006.0L1676.8,1000.0L1670.4,1002.4L1659.2,1003.2L1651.2,1000.8L1643.2,998.4L1635.2,992.8L1627.2,991.2L1617.6,988.8L1609.6,982.4L1604.8,984.0L1600.0,981.6L1593.6,983.2L1587.2,977.6L1580.8,976.0L1576.0,980.0L1569.6,975.2L1561.6,971.2L1555.2,978.4L1550.4,975.2L1545.6,968.0L1538.4,968.8L1536.8,978.4L1533.6,978.4L1529.6,970.4L1520.0,971.2L1510.4,965.6L1502.4,956.8L1496.8,959.2L1489.6,955.2L1475.2,953.6L1464.0,951.2L1452.8,952.0L1443.2,948.0L1434.4,948.8L1428.8,942.4L1420.8,937.6L1414.4,931.2L1409.6,932.0L1407.0,932.0Z" fill="#ebecee"/>
<path d="M1407.0,637.2L1410.4,637.2L1415.2,642.0L1419.2,651.6L1423.2,661.2L1427.2,669.2L1431.2,678.0L1434.4,678.8L1436.8,686.8L1440.8,689.2L1444.8,699.6L1448.8,710.0L1453.6,709.2L1456.0,715.6L1459.2,722.0L1461.6,712.4L1464.0,712.4L1465.6,725.2L1469.6,733.2L1472.0,728.4L1474.4,726.8L1476.8,738.0L1480.0,738.0L1482.4,729.2L1487.2,728.7L1491.2,738.0L1495.2,739.6L1500.8,746.0L1505.6,750.0L1508.8,749.2L1511.2,754.0L1516.0,750.0L1518.4,760.4L1523.2,768.4L1526.4,770.5L1531.2,765.0L1535.2,773.5L1540.8,775.0L1545.6,781.5L1550.4,778.0L1556.0,787.2L1560.0,793.6L1564.0,791.2L1568.0,796.8L1572.0,803.2L1575.2,805.6L1580.8,813.6L1585.6,821.6L1592.0,828.8L1603.2,836.0L1614.4,844.8L1627.2,855.2L1640.0,863.2L1652.8,871.2L1661.6,875.2L1664.8,870.4L1672.0,869.6L1675.2,867.2L1681.6,867.5L1689.6,872.0L1696.0,878.4L1707.2,883.2L1718.4,886.4L1729.6,890.4L1739.2,896.0L1752.0,902.4L1764.8,907.2L1772.8,912.0L1784.0,913.6L1792.0,914.4L1798.0,919.2L1806.0,924.0L1814.0,924.8L1818.8,927.2L1823.6,926.4L1836.4,932.0L1850.8,937.6L1865.2,941.6L1876.4,944.0L1886.0,944.0L1902.0,951.2L1918.0,957.9L1932.4,960.8L1942.0,966.4L1958.0,972.0L1969.2,974.4L1977.2,973.6L1990.0,976.8L2002.8,980.0L2014.0,987.2L2022.0,986.4L2025.2,988.0L2028.4,986.4L2042.8,989.6L2062.0,995.2L2078.0,999.2L2094.0,1002.5L2100.0,1003.0L2116.0,1006.2L2132.0,1009.4L2146.4,1013.7L2156.0,1012.6L2172.0,1015.8L2189.6,1020.6L2204.0,1022.2L2220.0,1025.4L2231.2,1025.4L2240.8,1024.9L2248.8,1027.8L2253.6,1027.0L2258.4,1033.4L2268.0,1034.2L2276.0,1039.0L2292.0,1043.0L2308.0,1047.0L2324.0,1053.4L2340.0,1058.2L2356.0,1062.2L2372.0,1067.0L2392.8,1071.8L2407.2,1077.4L2413.6,1081.4L2428.0,1086.2L2444.0,1090.2L2460.0,1094.2L2476.0,1098.2L2492.0,1100.1L2492.0,1100.1L2476.0,1099.5L2460.0,1099.8L2444.0,1100.6L2428.0,1099.0L2412.0,1095.0L2396.0,1091.5L2384.8,1091.0L2378.4,1092.6L2372.0,1092.6L2362.4,1089.9L2354.4,1091.5L2344.8,1087.8L2339.2,1089.9L2330.4,1083.8L2325.6,1083.0L2320.0,1087.0L2314.4,1084.6L2308.0,1081.4L2304.8,1083.0L2292.0,1080.6L2280.8,1077.4L2268.0,1075.8L2252.0,1075.0L2240.8,1071.8L2231.2,1071.0L2220.0,1067.8L2204.0,1066.2L2189.6,1064.6L2172.0,1064.6L2172.0,1061.4L2156.0,1056.6L2140.0,1053.4L2116.0,1049.4L2100.0,1047.0L2054.0,1040.0L2038.0,1036.8L2022.0,1032.8L2003.6,1027.2L1990.0,1023.0L1976.4,1018.4L1966.0,1015.2L1950.0,1011.2L1926.0,1007.2L1910.0,1002.4L1894.0,997.3L1878.0,994.4L1870.0,991.2L1860.4,991.2L1852.4,993.6L1846.0,993.6L1836.4,991.2L1826.8,984.8L1817.2,975.2L1815.6,971.2L1813.2,971.2L1810.8,978.4L1798.0,972.0L1788.4,967.2L1754.4,957.6L1733.0,952.0L1712.0,944.8L1699.2,938.5L1688.0,933.0L1672.0,925.5L1656.0,916.8L1640.0,906.4L1624.0,899.2L1608.0,892.0L1592.0,883.2L1576.0,872.8L1560.0,863.2L1537.6,851.2L1515.2,836.8L1504.0,830.4L1488.0,821.6L1476.8,817.6L1464.0,815.2L1448.0,812.8L1440.0,809.6L1433.6,802.4L1427.2,792.8L1419.2,786.4L1410.4,780.8L1407.0,780.8Z" fill="#a4c0cf"/>
<path d="M1672.5,941.5L1674.0,965.0L1676.0,995.0L1678.5,1015.0L1680.0,985.0L1682.0,1012.0L1684.0,981.0L1687.0,1005.0L1690.0,979.0L1694.0,985.0L1696.0,1010.0L1697.5,1027.0L1700.0,1015.0L1702.0,1009.0L1704.5,1021.0L1707.0,1020.0L1709.0,995.0L1712.0,997.0L1715.0,991.0L1718.0,1010.0L1720.5,1026.0L1723.0,1005.0L1725.0,995.0L1729.0,1008.0L1732.0,995.0L1735.0,1009.0L1738.0,1005.0L1741.0,1019.0L1744.0,1005.0L1746.0,985.0L1747.5,979.5L1750.0,981.0L1754.5,973.5Z" fill="#b4b4b5"/>
<path d="M1672.5,941.5L1674.0,965.0L1676.0,995.0L1678.5,1015.0L1680.0,985.0L1682.0,1012.0L1684.0,981.0L1687.0,1005.0L1690.0,979.0L1694.0,985.0L1696.0,1010.0L1697.5,1027.0L1700.0,1015.0L1702.0,1009.0L1704.5,1021.0L1707.0,1020.0L1709.0,995.0L1712.0,997.0L1715.0,991.0L1718.0,1010.0L1720.5,1026.0L1723.0,1005.0L1725.0,995.0L1729.0,1008.0L1732.0,995.0L1735.0,1009.0L1738.0,1005.0L1741.0,1019.0L1744.0,1005.0L1746.0,985.0L1747.5,979.5L1750.0,981.0L1754.5,973.5" fill="none" stroke="#2c2523" stroke-width="2.1" stroke-linejoin="round" stroke-linecap="round"/>
<path d="M1410.4,780.8L1419.2,786.4L1427.2,792.8L1433.6,802.4L1440.0,809.6L1448.0,812.8L1464.0,815.2L1476.8,817.6L1488.0,821.6L1504.0,830.4L1515.2,836.8L1537.6,851.2L1560.0,863.2L1576.0,872.8L1592.0,883.2L1608.0,892.0L1624.0,899.2L1640.0,906.4L1656.0,916.8L1672.0,925.5L1688.0,933.0L1699.2,938.5L1712.0,944.8L1733.0,952.0L1754.4,957.6L1788.4,967.2L1798.0,972.0L1810.8,978.4L1813.2,971.2L1815.6,971.2L1817.2,975.2L1826.8,984.8L1836.4,991.2L1846.0,993.6L1852.4,993.6L1860.4,991.2L1870.0,991.2L1878.0,994.4L1894.0,997.3L1910.0,1002.4L1926.0,1007.2L1950.0,1011.2L1966.0,1015.2L1976.4,1018.4L1990.0,1023.0L2003.6,1027.2L2022.0,1032.8L2038.0,1036.8L2054.0,1040.0L2100.0,1047.0L2116.0,1049.4L2140.0,1053.4L2156.0,1056.6L2172.0,1061.4" fill="none" stroke="#e61f2b" stroke-width="4" stroke-linejoin="round"/>
<path d="M1782.8,925.1L1788.4,925.9L1801.2,932.8L1809.2,938.4L1817.2,937.6L1830.0,943.2L1846.0,949.6L1858.0,952.8L1870.0,955.5L1883.6,958.4L1894.0,962.4L1910.0,968.0L1926.0,975.2L1932.4,974.9L1942.0,981.6L1954.8,984.8L1966.0,989.6L1980.4,989.6L1990.0,992.0L1998.0,998.4L2006.0,996.0L2018.8,1000.8L2030.0,1004.8L2041.2,1009.6L2047.6,1007.2L2057.2,1010.4L2070.0,1015.2L2086.0,1021.6L2102.0,1027.2L2117.6,1029.1L2120.8,1031.0L2140.0,1038.2L2164.0,1044.6L2180.0,1048.6L2196.0,1053.4L2205.6,1058.2L2212.0,1056.6L2220.0,1055.0L2224.8,1059.8L2232.8,1062.2L2240.8,1059.8L2252.0,1061.4L2268.0,1063.8L2284.0,1067.0L2290.4,1072.6L2296.8,1075.0L2308.0,1078.2L2324.0,1079.0L2340.0,1079.8L2349.6,1083.0L2356.0,1084.6L2359.2,1083.0L2372.0,1086.2L2383.2,1088.3" fill="none" stroke="#22c52d" stroke-width="4" stroke-linejoin="round" stroke-linecap="round"/>
<path d="M1487.2,799.2L1489.6,812.8L1492.0,832.0L1493.1,849.6L1494.4,840.0L1495.7,827.2L1497.3,827.2L1497.9,856.0L1499.2,892.8L1500.3,895.2L1501.6,888.0L1502.4,856.0L1504.8,827.2L1506.4,820.8L1508.5,825.6L1509.3,856.0L1510.4,878.4L1511.7,878.4L1512.8,856.0L1513.9,830.4L1516.8,828.8L1519.2,825.6L1520.3,816.0L1522.4,814.4L1524.8,808.0L1526.4,805.3Z" fill="#b4b4b5"/>
<path d="M1487.2,799.2L1489.6,812.8L1492.0,832.0L1493.1,849.6L1494.4,840.0L1495.7,827.2L1497.3,827.2L1497.9,856.0L1499.2,892.8L1500.3,895.2L1501.6,888.0L1502.4,856.0L1504.8,827.2L1506.4,820.8L1508.5,825.6L1509.3,856.0L1510.4,878.4L1511.7,878.4L1512.8,856.0L1513.9,830.4L1516.8,828.8L1519.2,825.6L1520.3,816.0L1522.4,814.4L1524.8,808.0L1526.4,805.3" fill="none" stroke="#2c2523" stroke-width="2.1" stroke-linejoin="round" stroke-linecap="round"/>
<path d="M1539.2,838.4L1539.2,872.0L1540.0,904.0L1540.8,926.4L1542.1,920.0L1542.9,888.0L1543.5,854.4L1544.8,854.4L1545.6,876.8L1547.2,856.0L1548.5,849.6L1549.6,859.2L1551.2,886.4L1552.8,872.0L1554.4,883.2L1556.0,881.6L1557.6,859.2L1559.2,846.4L1560.5,841.6Z" fill="#b4b4b5"/>
<path d="M1539.2,838.4L1539.2,872.0L1540.0,904.0L1540.8,926.4L1542.1,920.0L1542.9,888.0L1543.5,854.4L1544.8,854.4L1545.6,876.8L1547.2,856.0L1548.5,849.6L1549.6,859.2L1551.2,886.4L1552.8,872.0L1554.4,883.2L1556.0,881.6L1557.6,859.2L1559.2,846.4L1560.5,841.6" fill="none" stroke="#2c2523" stroke-width="2.1" stroke-linejoin="round" stroke-linecap="round"/>
<path d="M1556.0,896.0L1557.5,925.0L1558.4,954.4L1560.0,954.4L1561.5,925.0L1562.4,892.8Z" fill="#b4b4b5"/>
<path d="M1556.0,896.0L1557.5,925.0L1558.4,954.4L1560.0,954.4L1561.5,925.0L1562.4,892.8" fill="none" stroke="#2c2523" stroke-width="2.1" stroke-linejoin="round" stroke-linecap="round"/>
<path d="M1576.0,850.4L1577.6,872.0L1580.0,904.0L1582.4,929.6L1584.8,916.8L1587.2,908.8L1589.6,920.0L1591.2,932.8L1592.8,920.0L1594.4,888.0L1596.5,878.4L1598.1,888.0L1599.2,912.0L1601.3,926.4L1603.2,912.0L1605.6,896.0L1608.0,884.8L1609.6,879.2Z" fill="#b4b4b5"/>
<path d="M1576.0,850.4L1577.6,872.0L1580.0,904.0L1582.4,929.6L1584.8,916.8L1587.2,908.8L1589.6,920.0L1591.2,932.8L1592.8,920.0L1594.4,888.0L1596.5,878.4L1598.1,888.0L1599.2,912.0L1601.3,926.4L1603.2,912.0L1605.6,896.0L1608.0,884.8L1609.6,879.2" fill="none" stroke="#2c2523" stroke-width="2.1" stroke-linejoin="round" stroke-linecap="round"/>
<path d="M1566.4,937.6L1569.6,957.6L1572.0,948.0L1573.6,956.8L1576.0,956.0L1580.0,944.8L1582.4,937.6L1584.8,938.4L1589.6,954.4L1593.6,972.0L1596.0,978.4L1598.4,970.4L1600.8,952.8L1602.4,965.6L1604.8,956.0L1608.0,944.8L1609.6,941.6L1610.9,960.8L1612.0,970.4L1613.6,959.2L1616.0,960.8L1620.0,956.0L1625.6,954.4L1627.2,972.0L1628.8,991.2L1630.4,991.2L1632.0,964.0L1633.6,951.2L1635.2,964.0L1636.8,948.0L1640.0,952.8L1641.6,972.0L1644.0,984.8L1647.2,980.0L1649.6,964.0L1652.8,960.8L1654.4,976.8L1656.8,960.8L1660.0,957.6L1661.6,967.2L1663.2,952.8L1664.3,945.6Z" fill="#b4b4b5"/>
<path d="M1566.4,937.6L1569.6,957.6L1572.0,948.0L1573.6,956.8L1576.0,956.0L1580.0,944.8L1582.4,937.6L1584.8,938.4L1589.6,954.4L1593.6,972.0L1596.0,978.4L1598.4,970.4L1600.8,952.8L1602.4,965.6L1604.8,956.0L1608.0,944.8L1609.6,941.6L1610.9,960.8L1612.0,970.4L1613.6,959.2L1616.0,960.8L1620.0,956.0L1625.6,954.4L1627.2,972.0L1628.8,991.2L1630.4,991.2L1632.0,964.0L1633.6,951.2L1635.2,964.0L1636.8,948.0L1640.0,952.8L1641.6,972.0L1644.0,984.8L1647.2,980.0L1649.6,964.0L1652.8,960.8L1654.4,976.8L1656.8,960.8L1660.0,957.6L1661.6,967.2L1663.2,952.8L1664.3,945.6" fill="none" stroke="#2c2523" stroke-width="2.1" stroke-linejoin="round" stroke-linecap="round"/>
<path d="M1612.0,852.8L1617.6,859.2L1623.2,865.6L1626.4,872.0L1628.0,888.0L1628.8,907.2L1630.4,907.2L1632.0,888.0L1633.6,872.0L1635.2,868.8L1638.4,875.2L1641.6,880.0L1646.4,886.4L1649.6,894.4L1652.8,904.0L1654.4,913.6L1655.5,923.2L1656.8,910.4L1659.2,907.2L1661.1,912.0L1663.2,900.8L1666.4,897.6L1670.4,896.0L1675.2,900.8L1681.6,907.2L1686.4,915.2L1692.8,920.0L1697.6,923.2L1700.8,929.6L1703.0,937.0L1708.0,938.0L1714.0,947.0L1717.0,959.0L1720.0,970.0L1722.0,987.0L1723.5,990.5L1725.5,985.0L1727.0,965.0L1729.0,959.0L1731.0,977.0L1733.0,958.0L1735.0,949.0L1738.0,957.0L1741.0,963.0L1744.0,962.0L1745.0,976.0L1747.5,965.0L1750.0,966.0L1753.0,950.0L1756.0,957.0L1759.0,970.0L1761.5,979.5L1764.0,971.0L1767.0,969.0L1769.5,990.0L1772.5,1002.0L1778.0,1002.0L1782.0,993.0L1785.0,975.0L1787.0,955.0L1792.0,945.0Z" fill="#b4b4b5"/>
<path d="M1612.0,852.8L1617.6,859.2L1623.2,865.6L1626.4,872.0L1628.0,888.0L1628.8,907.2L1630.4,907.2L1632.0,888.0L1633.6,872.0L1635.2,868.8L1638.4,875.2L1641.6,880.0L1646.4,886.4L1649.6,894.4L1652.8,904.0L1654.4,913.6L1655.5,923.2L1656.8,910.4L1659.2,907.2L1661.1,912.0L1663.2,900.8L1666.4,897.6L1670.4,896.0L1675.2,900.8L1681.6,907.2L1686.4,915.2L1692.8,920.0L1697.6,923.2L1700.8,929.6L1703.0,937.0L1708.0,938.0L1714.0,947.0L1717.0,959.0L1720.0,970.0L1722.0,987.0L1723.5,990.5L1725.5,985.0L1727.0,965.0L1729.0,959.0L1731.0,977.0L1733.0,958.0L1735.0,949.0L1738.0,957.0L1741.0,963.0L1744.0,962.0L1745.0,976.0L1747.5,965.0L1750.0,966.0L1753.0,950.0L1756.0,957.0L1759.0,970.0L1761.5,979.5L1764.0,971.0L1767.0,969.0L1769.5,990.0L1772.5,1002.0L1778.0,1002.0L1782.0,993.0L1785.0,975.0L1787.0,955.0L1792.0,945.0" fill="none" stroke="#2c2523" stroke-width="2.1" stroke-linejoin="round" stroke-linecap="round"/>
<path d="M1409.6,932.0L1414.4,931.2L1420.8,937.6L1428.8,942.4L1434.4,948.8L1443.2,948.0L1452.8,952.0L1464.0,951.2L1475.2,953.6L1489.6,955.2L1496.8,959.2L1502.4,956.8L1510.4,965.6L1520.0,971.2L1529.6,970.4L1533.6,978.4L1536.8,978.4L1538.4,968.8L1545.6,968.0L1550.4,975.2L1555.2,978.4L1561.6,971.2L1569.6,975.2L1576.0,980.0L1580.8,976.0L1587.2,977.6L1593.6,983.2L1600.0,981.6L1604.8,984.0L1609.6,982.4L1617.6,988.8L1627.2,991.2L1635.2,992.8L1643.2,998.4L1651.2,1000.8L1659.2,1003.2L1670.4,1002.4L1676.8,1000.0L1688.0,1006.0L1696.0,1009.0L1712.0,1011.0L1728.0,1009.6L1739.2,1009.0L1748.8,1007.2L1756.8,1011.2L1768.0,1012.8L1777.6,1012.8L1785.6,1017.0L1794.8,1017.6L1802.8,1018.4L1814.0,1023.2L1830.0,1027.2L1846.0,1029.6L1857.2,1031.2L1866.8,1028.8L1878.0,1029.6L1894.0,1032.0L1905.2,1034.5L1913.2,1032.0L1926.0,1032.8L1942.0,1035.8L1958.0,1039.0L1976.0,1043.0L1984.0,1045.4L1992.0,1047.5L2001.6,1047.0L2012.8,1047.8L2019.2,1046.2L2022.4,1045.4L2028.8,1047.8L2040.0,1049.9L2056.0,1051.8L2072.0,1054.2L2088.0,1055.0L2104.0,1055.8L2116.0,1057.4L2132.0,1059.0L2148.0,1061.4L2172.0,1064.6L2189.6,1064.6L2204.0,1066.2L2220.0,1067.8L2231.2,1071.0L2240.8,1071.8L2252.0,1075.0L2268.0,1075.8L2280.8,1077.4L2292.0,1080.6L2304.8,1083.0L2308.0,1081.4L2314.4,1084.6L2320.0,1087.0L2325.6,1083.0L2330.4,1083.8L2339.2,1089.9L2344.8,1087.8L2354.4,1091.5L2362.4,1089.9L2372.0,1092.6L2378.4,1092.6L2384.8,1091.0L2396.0,1091.5L2412.0,1095.0L2428.0,1099.0L2444.0,1100.6L2460.0,1099.8L2476.0,1099.5L2492.0,1100.1" fill="none" stroke="#2c2523" stroke-width="4.4" stroke-linejoin="round"/>
<path d="M2140.0,1053.4L2156.0,1056.6L2172.0,1061.4" fill="none" stroke="#e61f2b" stroke-width="4" stroke-linejoin="round"/>
<path d="M2349.6,1083.0L2356.0,1084.6L2359.2,1083.0L2372.0,1086.2L2383.2,1088.3" fill="none" stroke="#22c52d" stroke-width="4" stroke-linejoin="round" stroke-linecap="round"/>
<path d="M1575.2,805.6L1580.8,813.6L1585.6,821.6L1592.0,828.8L1603.2,836.0L1614.4,844.8L1627.2,855.2L1640.0,863.2L1652.8,871.2L1661.6,875.2L1664.8,870.4L1672.0,869.6L1675.2,867.2L1681.6,867.5L1689.6,872.0L1696.0,878.4L1707.2,883.2L1718.4,886.4L1729.6,890.4L1739.2,896.0L1752.0,902.4L1764.8,907.2L1772.8,912.0L1784.0,913.6L1792.0,914.4L1798.0,919.2L1806.0,924.0L1814.0,924.8L1818.8,927.2L1823.6,926.4L1836.4,932.0L1850.8,937.6L1865.2,941.6L1876.4,944.0L1886.0,944.0L1902.0,951.2L1918.0,957.9L1932.4,960.8L1942.0,966.4L1958.0,972.0L1969.2,974.4L1977.2,973.6L1990.0,976.8L2002.8,980.0L2014.0,987.2L2022.0,986.4L2025.2,988.0L2028.4,986.4L2042.8,989.6L2062.0,995.2L2078.0,999.2L2094.0,1002.5L2100.0,1003.0L2116.0,1006.2L2132.0,1009.4L2146.4,1013.7L2156.0,1012.6L2172.0,1015.8L2189.6,1020.6L2204.0,1022.2L2220.0,1025.4L2231.2,1025.4L2240.8,1024.9L2248.8,1027.8L2253.6,1027.0L2258.4,1033.4L2268.0,1034.2L2276.0,1039.0L2292.0,1043.0L2308.0,1047.0L2324.0,1053.4L2340.0,1058.2L2356.0,1062.2L2372.0,1067.0L2392.8,1071.8L2407.2,1077.4L2413.6,1081.4L2428.0,1086.2L2444.0,1090.2L2460.0,1094.2L2476.0,1098.2L2492.0,1100.1" fill="none" stroke="#2c2523" stroke-width="4.4" stroke-linejoin="round" stroke-linecap="round"/>
<path d="M1410.4,637.2L1415.2,642.0L1419.2,651.6L1423.2,661.2L1427.2,669.2L1431.2,678.0L1434.4,678.8L1436.8,686.8L1440.8,689.2L1444.8,699.6L1448.8,710.0L1453.6,709.2L1456.0,715.6L1459.2,722.0L1461.6,712.4L1464.0,712.4L1465.6,725.2L1469.6,733.2L1472.0,728.4L1474.4,726.8L1476.8,738.0L1480.0,738.0L1482.4,729.2L1487.2,728.7L1491.2,738.0L1495.2,739.6L1500.8,746.0L1505.6,750.0L1508.8,749.2L1511.2,754.0L1516.0,750.0L1518.4,760.4L1523.2,768.4L1526.4,770.5L1531.2,765.0L1535.2,773.5L1540.8,775.0L1545.6,781.5L1550.4,778.0L1556.0,787.2L1560.0,793.6L1564.0,791.2L1568.0,796.8L1572.0,803.2L1575.2,805.6" fill="none" stroke="#ee8b40" stroke-width="4.6" stroke-linejoin="round" stroke-linecap="round"/>
<path id="tp2" d="M1427.8,625.1 L1443.2,639.6 Q1520.0,712.0 1590.4,769.2 L1625.6,797.8" fill="none"/>
<text font-size="27.80" letter-spacing="3.100" fill="#f5a63a"><textPath href="#tp2" startOffset="18.83">Exposed SCs</textPath></text>
<g transform="matrix(0.90009 0.43571 -0.43571 0.90009 1440.50 879.50)">
<rect x="-0.3" y="-26.0" width="88.8" height="31.1" fill="#fff"/>
<text x="-2.34" y="0" font-size="28.51" letter-spacing="1.790" fill="#a9a9a9">Buried</text></g>
<g transform="matrix(0.90482 0.42580 -0.42580 0.90482 1443.00 914.50)">
<rect x="-2.1" y="-24.4" width="57.0" height="32.0" fill="#fff"/>
<text x="-1.31" y="0" font-size="28.51" letter-spacing="2.423" fill="#a9a9a9">SCs</text></g>
<circle cx="1528.6" cy="842.0" r="13.3" fill="#fff"/>
<text x="1528.60" y="850.39" font-size="24.40" text-anchor="middle" fill="#2c2523">2</text>
<circle cx="1623.0" cy="941.0" r="13.3" fill="#fff"/>
<text x="1623.00" y="949.39" font-size="24.40" text-anchor="middle" fill="#2c2523">3</text>
<circle cx="1729.0" cy="921.2" r="13.3" fill="#fff"/>
<text x="1729.00" y="929.59" font-size="24.40" text-anchor="middle" fill="#2c2523">1</text>
<rect x="1858" y="944.5" width="25.5" height="21.5" fill="#fff"/>
<text x="1857.17" y="961.50" font-size="17.44" letter-spacing="-0.427" fill="#22c52d" >R 1</text>
<rect x="1976.4" y="1012.8" width="27.2" height="20.8" fill="#fff"/>
<text x="1975.57" y="1029.30" font-size="17.44" letter-spacing="0.581" fill="#e61f2b" >R 2</text>
<text x="1916.10" y="998.90" font-size="26.89" letter-spacing="0.000" fill="#2c2523" >B</text>
<text x="1811.59" y="1017.50" font-size="27.62" letter-spacing="0.000" fill="#2c2523" >C</text>
<text x="2235.14" y="1054.70" font-size="28.34" letter-spacing="0.000" fill="#2c2523" >A</text>
<text x="1727.25" y="864.50" font-size="34.04" letter-spacing="1.878" fill="#2c2523" >Truncation</text>
<path d="M1814.0,869.5 L1790.4,908.7" stroke="#2c2523" stroke-width="2.3" fill="none"/>
<path d="M1784.5,918.5 L1786.4,904.5 L1790.4,908.7 L1796.0,910.3 Z" fill="#2c2523"/>
<text x="2213.28" y="997.40" font-size="33.19" letter-spacing="2.628" fill="#2c2523" >Downlap</text>
<path d="M2265.6,1007.3 L2198.1,1056.3" stroke="#2c2523" stroke-width="2.3" fill="none"/>
<path d="M2188.8,1063.0 L2196.0,1050.8 L2198.1,1056.3 L2202.6,1059.9 Z" fill="#2c2523"/>
<path d="M2302.4,1008.3 L2373.5,1078.9" stroke="#2c2523" stroke-width="2.3" fill="none"/>
<path d="M2381.6,1087.0 L2368.4,1081.8 L2373.5,1078.9 L2376.3,1073.9 Z" fill="#2c2523"/>
<g transform="matrix(0.98436 0.17617 -0.23594 0.97177 1960.00 961.60)">
<text x="-1.57" y="0" font-size="34.04" letter-spacing="1.652" fill="#2c2523">Seafloor</text></g>
<g transform="matrix(0.99414 0.10806 -0.16511 0.98628 1730.60 1050.90)">
<text x="-2.79" y="0" font-size="34.04" letter-spacing="1.514" word-spacing="9.00" fill="#2c2523">MHD basement</text></g>
</g>
<g id="frames" fill="none" stroke="#2c2523" stroke-width="4.7">
<rect x="127.35" y="54.45" width="1079.1" height="508.75"/>
<rect x="127.35" y="613.55" width="1079.1" height="508.75"/>
<rect x="1407.35" y="54.45" width="1079.1" height="508.75"/>
<rect x="1407.35" y="613.55" width="1079.1" height="508.75"/>
<path d="M113.3,155.2 H126"/>
<path d="M113.3,714.5 H126"/>
<path d="M113.3,293.6 H126"/>
<path d="M113.3,852.9 H126"/>
<path d="M113.3,432.3 H126"/>
<path d="M113.3,991.6 H126"/>
<path d="M1392.9,144.3 H1406"/>
<path d="M1392.9,705.4 H1406"/>
<path d="M1392.9,253.9 H1406"/>
<path d="M1392.9,815.0 H1406"/>
<path d="M1392.9,363.2 H1406"/>
<path d="M1392.9,924.3 H1406"/>
<path d="M1392.9,472.3 H1406"/>
<path d="M1392.9,1033.4 H1406"/>
<path d="M392.75,123.8 V133.2 H489.75 V123.8" stroke-width="4.5"/>
<path d="M392.65,684.4 V694.0 H489.45 V684.4" stroke-width="4.5"/>
<path d="M1632.75,126.2 V136.2 H1725.25 V126.2" stroke-width="4.5"/>
<path d="M1654.25,686.8 V696.4 H1747.35 V686.8" stroke-width="4.5"/>
</g>
<g id="labels">
<text x="66.50" y="165.60" font-size="30.23" letter-spacing="1.358" fill="#2c2523" >10</text>
<text x="66.50" y="724.90" font-size="30.23" letter-spacing="1.358" fill="#2c2523" >10</text>
<text x="66.50" y="304.00" font-size="30.23" letter-spacing="1.449" fill="#2c2523" >15</text>
<text x="66.50" y="863.30" font-size="30.23" letter-spacing="1.449" fill="#2c2523" >15</text>
<text x="67.29" y="442.70" font-size="30.23" letter-spacing="0.572" fill="#2c2523" >20</text>
<text x="67.29" y="1002.00" font-size="30.23" letter-spacing="0.572" fill="#2c2523" >20</text>
<text x="1368.79" y="154.70" font-size="30.23" letter-spacing="0.000" fill="#2c2523" >5</text>
<text x="1368.79" y="715.80" font-size="30.23" letter-spacing="0.000" fill="#2c2523" >5</text>
<text x="1350.10" y="264.30" font-size="30.23" letter-spacing="0.558" fill="#2c2523" >10</text>
<text x="1350.10" y="825.40" font-size="30.23" letter-spacing="0.558" fill="#2c2523" >10</text>
<text x="1350.10" y="373.60" font-size="30.23" letter-spacing="0.649" fill="#2c2523" >15</text>
<text x="1350.10" y="934.70" font-size="30.23" letter-spacing="0.649" fill="#2c2523" >15</text>
<text x="1350.89" y="482.70" font-size="30.23" letter-spacing="-0.228" fill="#2c2523" >20</text>
<text x="1350.89" y="1043.80" font-size="30.23" letter-spacing="-0.228" fill="#2c2523" >20</text>
<text x="28.86" y="55.50" font-size="70.49" letter-spacing="0.000" fill="#2c2523" >A</text>
<text x="1307.82" y="55.70" font-size="70.49" letter-spacing="0.000" fill="#2c2523" >B</text>
<text x="129.33" y="49.30" font-size="47.09" letter-spacing="-0.012" fill="#2c2523" >SW</text>
<text x="1142.54" y="49.00" font-size="47.09" letter-spacing="0.974" fill="#2c2523" >NE</text>
<text x="1409.03" y="49.00" font-size="47.09" letter-spacing="-0.712" fill="#2c2523" >SW</text>
<text x="2422.54" y="49.00" font-size="47.09" letter-spacing="0.474" fill="#2c2523" >NE</text>
<text x="127.11" y="609.10" font-size="47.67" letter-spacing="-0.520" fill="#2c2523" >SW</text>
<text x="1140.61" y="608.80" font-size="47.38" letter-spacing="0.407" fill="#2c2523" >NE</text>
<text x="1409.02" y="609.20" font-size="47.38" letter-spacing="-1.166" fill="#2c2523" >SW</text>
<text x="2422.51" y="609.60" font-size="47.38" letter-spacing="0.107" fill="#2c2523" >NE</text>
<text x="389.72" y="118.00" font-size="45.67" letter-spacing="1.274" fill="#2c2523" >2 km</text>
<text x="390.52" y="678.00" font-size="45.67" letter-spacing="1.041" fill="#2c2523" >2 km</text>
<text x="1629.51" y="119.25" font-size="45.67" letter-spacing="1.092" fill="#2c2523" >3 km</text>
<text x="1651.86" y="678.00" font-size="45.67" letter-spacing="0.858" fill="#2c2523" >3 km</text>
<text transform="translate(34.4 397.3) rotate(-90)" x="-3.16" y="0" font-size="38.58" letter-spacing="1.320" fill="#2c2523">Depth (m)</text>
<text transform="translate(34.4 958.3) rotate(-90)" x="-3.16" y="0" font-size="38.58" letter-spacing="1.320" fill="#2c2523">Depth (m)</text>
<text transform="translate(1321.2 397.3) rotate(-90)" x="-3.16" y="0" font-size="38.58" letter-spacing="1.320" fill="#2c2523">Depth (m)</text>
<text transform="translate(1321.2 958.3) rotate(-90)" x="-3.16" y="0" font-size="38.58" letter-spacing="1.320" fill="#2c2523">Depth (m)</text>
</g>
</svg>
</body></html>
